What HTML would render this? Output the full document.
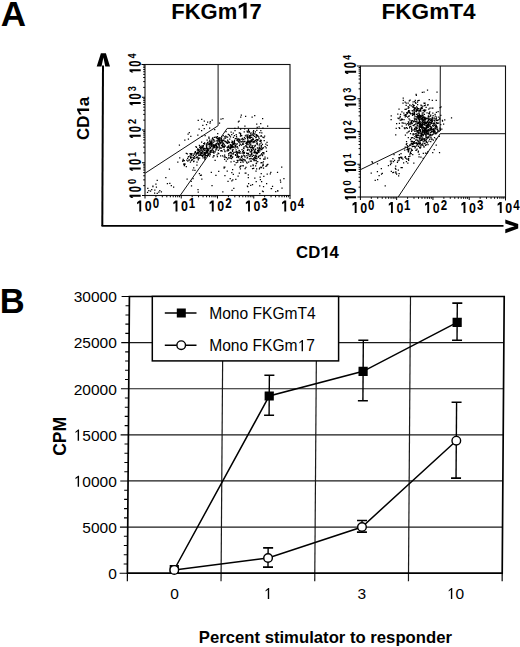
<!DOCTYPE html>
<html><head><meta charset="utf-8"><style>
html,body{margin:0;padding:0;background:#fff;width:520px;height:647px;overflow:hidden}
svg{display:block}
</style></head><body>
<svg width="520" height="647" viewBox="0 0 520 647">
<rect width="520" height="647" fill="#fff"/>
<text x="0.85" y="26.30" font-family="Liberation Sans" font-size="35" font-weight="bold" text-anchor="start" >A</text>
<text x="171.20" y="18.50" font-family="Liberation Sans" font-size="22" font-weight="bold">FKGm</text><path transform="translate(237.20,18.50) scale(22)" d="M0.28,0L0.43,0L0.43,-0.716L0.32,-0.716L0.07,-0.58L0.07,-0.44L0.28,-0.57Z" fill="#000"/><text x="249.43" y="18.50" font-family="Liberation Sans" font-size="22" font-weight="bold">7</text>
<text x="381.50" y="18.50" font-family="Liberation Sans" font-size="22.6" font-weight="bold" text-anchor="start" >FKGmT4</text>
<line x1="103.00" y1="65.50" x2="102.30" y2="226.00" stroke="#000" stroke-width="2.0" />
<line x1="101.50" y1="225.90" x2="503.50" y2="225.90" stroke="#000" stroke-width="1.9" />
<path d="M100.9,53.2 L105.9,53.2 L110,66.4 L105.3,66.4 L103.4,57.6 L101.5,66.4 L96.7,66.4 Z" fill="#000"/>
<path d="M505.3,219.6 L518.2,224.1 L518.2,228.5 L505.3,233.2 L505.3,229.2 L514.6,226.3 L505.3,223.6 Z" fill="#000"/>
<g transform="translate(89.1,139.9) rotate(-90)"><text x="0.00" y="0.00" font-family="Liberation Sans" font-size="16.8" font-weight="bold">CD</text><path transform="translate(24.27,0.00) scale(16.8)" d="M0.28,0L0.43,0L0.43,-0.716L0.32,-0.716L0.07,-0.58L0.07,-0.44L0.28,-0.57Z" fill="#000"/><text x="33.61" y="0.00" font-family="Liberation Sans" font-size="16.8" font-weight="bold">a</text></g>
<text x="296.10" y="258.10" font-family="Liberation Sans" font-size="16.7" font-weight="bold">CD</text><path transform="translate(320.22,258.10) scale(16.7)" d="M0.28,0L0.43,0L0.43,-0.716L0.32,-0.716L0.07,-0.58L0.07,-0.44L0.28,-0.57Z" fill="#000"/><text x="329.51" y="258.10" font-family="Liberation Sans" font-size="16.7" font-weight="bold">4</text>
<rect x="145" y="64.5" width="145" height="131.0" fill="none" stroke="#111" stroke-width="1.1"/>
<line x1="145.00" y1="195.50" x2="145.00" y2="198.50" stroke="#000" stroke-width="1.0" />
<line x1="142.00" y1="195.50" x2="145.00" y2="195.50" stroke="#000" stroke-width="1.0" />
<line x1="155.91" y1="195.50" x2="155.91" y2="197.30" stroke="#000" stroke-width="1.0" />
<line x1="143.20" y1="185.64" x2="145.00" y2="185.64" stroke="#000" stroke-width="1.0" />
<line x1="162.30" y1="195.50" x2="162.30" y2="197.30" stroke="#000" stroke-width="1.0" />
<line x1="143.20" y1="179.87" x2="145.00" y2="179.87" stroke="#000" stroke-width="1.0" />
<line x1="166.82" y1="195.50" x2="166.82" y2="197.30" stroke="#000" stroke-width="1.0" />
<line x1="143.20" y1="175.78" x2="145.00" y2="175.78" stroke="#000" stroke-width="1.0" />
<line x1="170.34" y1="195.50" x2="170.34" y2="197.30" stroke="#000" stroke-width="1.0" />
<line x1="143.20" y1="172.61" x2="145.00" y2="172.61" stroke="#000" stroke-width="1.0" />
<line x1="173.21" y1="195.50" x2="173.21" y2="197.30" stroke="#000" stroke-width="1.0" />
<line x1="143.20" y1="170.02" x2="145.00" y2="170.02" stroke="#000" stroke-width="1.0" />
<line x1="175.63" y1="195.50" x2="175.63" y2="197.30" stroke="#000" stroke-width="1.0" />
<line x1="143.20" y1="167.82" x2="145.00" y2="167.82" stroke="#000" stroke-width="1.0" />
<line x1="177.74" y1="195.50" x2="177.74" y2="197.30" stroke="#000" stroke-width="1.0" />
<line x1="143.20" y1="165.92" x2="145.00" y2="165.92" stroke="#000" stroke-width="1.0" />
<line x1="179.59" y1="195.50" x2="179.59" y2="197.30" stroke="#000" stroke-width="1.0" />
<line x1="143.20" y1="164.25" x2="145.00" y2="164.25" stroke="#000" stroke-width="1.0" />
<line x1="181.25" y1="195.50" x2="181.25" y2="198.50" stroke="#000" stroke-width="1.0" />
<line x1="142.00" y1="162.75" x2="145.00" y2="162.75" stroke="#000" stroke-width="1.0" />
<line x1="192.16" y1="195.50" x2="192.16" y2="197.30" stroke="#000" stroke-width="1.0" />
<line x1="143.20" y1="152.89" x2="145.00" y2="152.89" stroke="#000" stroke-width="1.0" />
<line x1="198.55" y1="195.50" x2="198.55" y2="197.30" stroke="#000" stroke-width="1.0" />
<line x1="143.20" y1="147.12" x2="145.00" y2="147.12" stroke="#000" stroke-width="1.0" />
<line x1="203.07" y1="195.50" x2="203.07" y2="197.30" stroke="#000" stroke-width="1.0" />
<line x1="143.20" y1="143.03" x2="145.00" y2="143.03" stroke="#000" stroke-width="1.0" />
<line x1="206.59" y1="195.50" x2="206.59" y2="197.30" stroke="#000" stroke-width="1.0" />
<line x1="143.20" y1="139.86" x2="145.00" y2="139.86" stroke="#000" stroke-width="1.0" />
<line x1="209.46" y1="195.50" x2="209.46" y2="197.30" stroke="#000" stroke-width="1.0" />
<line x1="143.20" y1="137.27" x2="145.00" y2="137.27" stroke="#000" stroke-width="1.0" />
<line x1="211.88" y1="195.50" x2="211.88" y2="197.30" stroke="#000" stroke-width="1.0" />
<line x1="143.20" y1="135.07" x2="145.00" y2="135.07" stroke="#000" stroke-width="1.0" />
<line x1="213.99" y1="195.50" x2="213.99" y2="197.30" stroke="#000" stroke-width="1.0" />
<line x1="143.20" y1="133.17" x2="145.00" y2="133.17" stroke="#000" stroke-width="1.0" />
<line x1="215.84" y1="195.50" x2="215.84" y2="197.30" stroke="#000" stroke-width="1.0" />
<line x1="143.20" y1="131.50" x2="145.00" y2="131.50" stroke="#000" stroke-width="1.0" />
<line x1="217.50" y1="195.50" x2="217.50" y2="198.50" stroke="#000" stroke-width="1.0" />
<line x1="142.00" y1="130.00" x2="145.00" y2="130.00" stroke="#000" stroke-width="1.0" />
<line x1="228.41" y1="195.50" x2="228.41" y2="197.30" stroke="#000" stroke-width="1.0" />
<line x1="143.20" y1="120.14" x2="145.00" y2="120.14" stroke="#000" stroke-width="1.0" />
<line x1="234.80" y1="195.50" x2="234.80" y2="197.30" stroke="#000" stroke-width="1.0" />
<line x1="143.20" y1="114.37" x2="145.00" y2="114.37" stroke="#000" stroke-width="1.0" />
<line x1="239.32" y1="195.50" x2="239.32" y2="197.30" stroke="#000" stroke-width="1.0" />
<line x1="143.20" y1="110.28" x2="145.00" y2="110.28" stroke="#000" stroke-width="1.0" />
<line x1="242.84" y1="195.50" x2="242.84" y2="197.30" stroke="#000" stroke-width="1.0" />
<line x1="143.20" y1="107.11" x2="145.00" y2="107.11" stroke="#000" stroke-width="1.0" />
<line x1="245.71" y1="195.50" x2="245.71" y2="197.30" stroke="#000" stroke-width="1.0" />
<line x1="143.20" y1="104.52" x2="145.00" y2="104.52" stroke="#000" stroke-width="1.0" />
<line x1="248.13" y1="195.50" x2="248.13" y2="197.30" stroke="#000" stroke-width="1.0" />
<line x1="143.20" y1="102.32" x2="145.00" y2="102.32" stroke="#000" stroke-width="1.0" />
<line x1="250.24" y1="195.50" x2="250.24" y2="197.30" stroke="#000" stroke-width="1.0" />
<line x1="143.20" y1="100.42" x2="145.00" y2="100.42" stroke="#000" stroke-width="1.0" />
<line x1="252.09" y1="195.50" x2="252.09" y2="197.30" stroke="#000" stroke-width="1.0" />
<line x1="143.20" y1="98.75" x2="145.00" y2="98.75" stroke="#000" stroke-width="1.0" />
<line x1="253.75" y1="195.50" x2="253.75" y2="198.50" stroke="#000" stroke-width="1.0" />
<line x1="142.00" y1="97.25" x2="145.00" y2="97.25" stroke="#000" stroke-width="1.0" />
<line x1="264.66" y1="195.50" x2="264.66" y2="197.30" stroke="#000" stroke-width="1.0" />
<line x1="143.20" y1="87.39" x2="145.00" y2="87.39" stroke="#000" stroke-width="1.0" />
<line x1="271.05" y1="195.50" x2="271.05" y2="197.30" stroke="#000" stroke-width="1.0" />
<line x1="143.20" y1="81.62" x2="145.00" y2="81.62" stroke="#000" stroke-width="1.0" />
<line x1="275.57" y1="195.50" x2="275.57" y2="197.30" stroke="#000" stroke-width="1.0" />
<line x1="143.20" y1="77.53" x2="145.00" y2="77.53" stroke="#000" stroke-width="1.0" />
<line x1="279.09" y1="195.50" x2="279.09" y2="197.30" stroke="#000" stroke-width="1.0" />
<line x1="143.20" y1="74.36" x2="145.00" y2="74.36" stroke="#000" stroke-width="1.0" />
<line x1="281.96" y1="195.50" x2="281.96" y2="197.30" stroke="#000" stroke-width="1.0" />
<line x1="143.20" y1="71.77" x2="145.00" y2="71.77" stroke="#000" stroke-width="1.0" />
<line x1="284.38" y1="195.50" x2="284.38" y2="197.30" stroke="#000" stroke-width="1.0" />
<line x1="143.20" y1="69.57" x2="145.00" y2="69.57" stroke="#000" stroke-width="1.0" />
<line x1="286.49" y1="195.50" x2="286.49" y2="197.30" stroke="#000" stroke-width="1.0" />
<line x1="143.20" y1="67.67" x2="145.00" y2="67.67" stroke="#000" stroke-width="1.0" />
<line x1="288.34" y1="195.50" x2="288.34" y2="197.30" stroke="#000" stroke-width="1.0" />
<line x1="143.20" y1="66.00" x2="145.00" y2="66.00" stroke="#000" stroke-width="1.0" />
<line x1="290.00" y1="195.50" x2="290.00" y2="199.00" stroke="#000" stroke-width="1.0" />
<line x1="141.50" y1="64.50" x2="145.00" y2="64.50" stroke="#000" stroke-width="1.0" />
<path transform="translate(145.00,195.50) rotate(0)" d="M-5.70,4.90H-3.80V15.90H-5.70Z M-5.70,4.90L-5.70,7.50L-7.90,8.80L-7.90,6.80Z" fill="#000"/>
<text transform="translate(145.00,195.50) rotate(0) translate(-0.20,15.90) scale(0.8,1)" font-family="Liberation Sans" font-size="15.5" font-weight="bold">0</text>
<text transform="translate(145.00,195.50) rotate(0) translate(7.64,12.60) scale(0.82,1)" font-family="Liberation Sans" font-size="14" font-weight="bold">0</text>
<path transform="translate(140.70,190.00) rotate(-90)" d="M-6.70,-11.20H-4.80V0.00H-6.70Z M-6.70,-11.20L-6.70,-8.60L-8.00,-7.30L-8.00,-9.30Z" fill="#000"/>
<text transform="translate(140.70,190.00) rotate(-90) translate(-2.35,0.00) scale(0.68,1)" font-family="Liberation Sans" font-size="16.5" font-weight="bold">0</text>
<text transform="translate(140.70,190.00) rotate(-90) translate(5.93,-4.80) scale(0.8,1)" font-family="Liberation Sans" font-size="11.5" font-weight="bold">0</text>
<path transform="translate(181.25,195.50) rotate(0)" d="M-5.70,4.90H-3.80V15.90H-5.70Z M-5.70,4.90L-5.70,7.50L-7.90,8.80L-7.90,6.80Z" fill="#000"/>
<text transform="translate(181.25,195.50) rotate(0) translate(-0.20,15.90) scale(0.8,1)" font-family="Liberation Sans" font-size="15.5" font-weight="bold">0</text>
<text transform="translate(181.25,195.50) rotate(0) translate(7.41,12.60) scale(0.82,1)" font-family="Liberation Sans" font-size="14" font-weight="bold">1</text>
<path transform="translate(140.70,162.75) rotate(-90)" d="M-6.70,-11.20H-4.80V0.00H-6.70Z M-6.70,-11.20L-6.70,-8.60L-8.00,-7.30L-8.00,-9.30Z" fill="#000"/>
<text transform="translate(140.70,162.75) rotate(-90) translate(-2.35,0.00) scale(0.68,1)" font-family="Liberation Sans" font-size="16.5" font-weight="bold">0</text>
<text transform="translate(140.70,162.75) rotate(-90) translate(5.75,-4.80) scale(0.8,1)" font-family="Liberation Sans" font-size="11.5" font-weight="bold">1</text>
<path transform="translate(217.50,195.50) rotate(0)" d="M-5.70,4.90H-3.80V15.90H-5.70Z M-5.70,4.90L-5.70,7.50L-7.90,8.80L-7.90,6.80Z" fill="#000"/>
<text transform="translate(217.50,195.50) rotate(0) translate(-0.20,15.90) scale(0.8,1)" font-family="Liberation Sans" font-size="15.5" font-weight="bold">0</text>
<text transform="translate(217.50,195.50) rotate(0) translate(7.76,12.60) scale(0.82,1)" font-family="Liberation Sans" font-size="14" font-weight="bold">2</text>
<path transform="translate(140.70,130.00) rotate(-90)" d="M-6.70,-11.20H-4.80V0.00H-6.70Z M-6.70,-11.20L-6.70,-8.60L-8.00,-7.30L-8.00,-9.30Z" fill="#000"/>
<text transform="translate(140.70,130.00) rotate(-90) translate(-2.35,0.00) scale(0.68,1)" font-family="Liberation Sans" font-size="16.5" font-weight="bold">0</text>
<text transform="translate(140.70,130.00) rotate(-90) translate(6.02,-4.80) scale(0.8,1)" font-family="Liberation Sans" font-size="11.5" font-weight="bold">2</text>
<path transform="translate(253.75,195.50) rotate(0)" d="M-5.70,4.90H-3.80V15.90H-5.70Z M-5.70,4.90L-5.70,7.50L-7.90,8.80L-7.90,6.80Z" fill="#000"/>
<text transform="translate(253.75,195.50) rotate(0) translate(-0.20,15.90) scale(0.8,1)" font-family="Liberation Sans" font-size="15.5" font-weight="bold">0</text>
<text transform="translate(253.75,195.50) rotate(0) translate(7.87,12.60) scale(0.82,1)" font-family="Liberation Sans" font-size="14" font-weight="bold">3</text>
<path transform="translate(140.70,97.25) rotate(-90)" d="M-6.70,-11.20H-4.80V0.00H-6.70Z M-6.70,-11.20L-6.70,-8.60L-8.00,-7.30L-8.00,-9.30Z" fill="#000"/>
<text transform="translate(140.70,97.25) rotate(-90) translate(-2.35,0.00) scale(0.68,1)" font-family="Liberation Sans" font-size="16.5" font-weight="bold">0</text>
<text transform="translate(140.70,97.25) rotate(-90) translate(6.12,-4.80) scale(0.8,1)" font-family="Liberation Sans" font-size="11.5" font-weight="bold">3</text>
<path transform="translate(290.00,195.50) rotate(0)" d="M-5.70,4.90H-3.80V15.90H-5.70Z M-5.70,4.90L-5.70,7.50L-7.90,8.80L-7.90,6.80Z" fill="#000"/>
<text transform="translate(290.00,195.50) rotate(0) translate(-0.20,15.90) scale(0.8,1)" font-family="Liberation Sans" font-size="15.5" font-weight="bold">0</text>
<text transform="translate(290.00,195.50) rotate(0) translate(7.87,12.60) scale(0.82,1)" font-family="Liberation Sans" font-size="14" font-weight="bold">4</text>
<path transform="translate(140.70,64.50) rotate(-90)" d="M-6.70,-11.20H-4.80V0.00H-6.70Z M-6.70,-11.20L-6.70,-8.60L-8.00,-7.30L-8.00,-9.30Z" fill="#000"/>
<text transform="translate(140.70,64.50) rotate(-90) translate(-2.35,0.00) scale(0.68,1)" font-family="Liberation Sans" font-size="16.5" font-weight="bold">0</text>
<text transform="translate(140.70,64.50) rotate(-90) translate(6.12,-4.80) scale(0.8,1)" font-family="Liberation Sans" font-size="11.5" font-weight="bold">4</text>
<rect x="360.4" y="66" width="145.10000000000002" height="131" fill="none" stroke="#111" stroke-width="1.1"/>
<line x1="360.40" y1="197.00" x2="360.40" y2="200.00" stroke="#000" stroke-width="1.0" />
<line x1="357.40" y1="197.00" x2="360.40" y2="197.00" stroke="#000" stroke-width="1.0" />
<line x1="371.32" y1="197.00" x2="371.32" y2="198.80" stroke="#000" stroke-width="1.0" />
<line x1="358.60" y1="187.14" x2="360.40" y2="187.14" stroke="#000" stroke-width="1.0" />
<line x1="377.71" y1="197.00" x2="377.71" y2="198.80" stroke="#000" stroke-width="1.0" />
<line x1="358.60" y1="181.37" x2="360.40" y2="181.37" stroke="#000" stroke-width="1.0" />
<line x1="382.24" y1="197.00" x2="382.24" y2="198.80" stroke="#000" stroke-width="1.0" />
<line x1="358.60" y1="177.28" x2="360.40" y2="177.28" stroke="#000" stroke-width="1.0" />
<line x1="385.76" y1="197.00" x2="385.76" y2="198.80" stroke="#000" stroke-width="1.0" />
<line x1="358.60" y1="174.11" x2="360.40" y2="174.11" stroke="#000" stroke-width="1.0" />
<line x1="388.63" y1="197.00" x2="388.63" y2="198.80" stroke="#000" stroke-width="1.0" />
<line x1="358.60" y1="171.52" x2="360.40" y2="171.52" stroke="#000" stroke-width="1.0" />
<line x1="391.06" y1="197.00" x2="391.06" y2="198.80" stroke="#000" stroke-width="1.0" />
<line x1="358.60" y1="169.32" x2="360.40" y2="169.32" stroke="#000" stroke-width="1.0" />
<line x1="393.16" y1="197.00" x2="393.16" y2="198.80" stroke="#000" stroke-width="1.0" />
<line x1="358.60" y1="167.42" x2="360.40" y2="167.42" stroke="#000" stroke-width="1.0" />
<line x1="395.02" y1="197.00" x2="395.02" y2="198.80" stroke="#000" stroke-width="1.0" />
<line x1="358.60" y1="165.75" x2="360.40" y2="165.75" stroke="#000" stroke-width="1.0" />
<line x1="396.67" y1="197.00" x2="396.67" y2="200.00" stroke="#000" stroke-width="1.0" />
<line x1="357.40" y1="164.25" x2="360.40" y2="164.25" stroke="#000" stroke-width="1.0" />
<line x1="407.59" y1="197.00" x2="407.59" y2="198.80" stroke="#000" stroke-width="1.0" />
<line x1="358.60" y1="154.39" x2="360.40" y2="154.39" stroke="#000" stroke-width="1.0" />
<line x1="413.98" y1="197.00" x2="413.98" y2="198.80" stroke="#000" stroke-width="1.0" />
<line x1="358.60" y1="148.62" x2="360.40" y2="148.62" stroke="#000" stroke-width="1.0" />
<line x1="418.51" y1="197.00" x2="418.51" y2="198.80" stroke="#000" stroke-width="1.0" />
<line x1="358.60" y1="144.53" x2="360.40" y2="144.53" stroke="#000" stroke-width="1.0" />
<line x1="422.03" y1="197.00" x2="422.03" y2="198.80" stroke="#000" stroke-width="1.0" />
<line x1="358.60" y1="141.36" x2="360.40" y2="141.36" stroke="#000" stroke-width="1.0" />
<line x1="424.90" y1="197.00" x2="424.90" y2="198.80" stroke="#000" stroke-width="1.0" />
<line x1="358.60" y1="138.77" x2="360.40" y2="138.77" stroke="#000" stroke-width="1.0" />
<line x1="427.33" y1="197.00" x2="427.33" y2="198.80" stroke="#000" stroke-width="1.0" />
<line x1="358.60" y1="136.57" x2="360.40" y2="136.57" stroke="#000" stroke-width="1.0" />
<line x1="429.43" y1="197.00" x2="429.43" y2="198.80" stroke="#000" stroke-width="1.0" />
<line x1="358.60" y1="134.67" x2="360.40" y2="134.67" stroke="#000" stroke-width="1.0" />
<line x1="431.29" y1="197.00" x2="431.29" y2="198.80" stroke="#000" stroke-width="1.0" />
<line x1="358.60" y1="133.00" x2="360.40" y2="133.00" stroke="#000" stroke-width="1.0" />
<line x1="432.95" y1="197.00" x2="432.95" y2="200.00" stroke="#000" stroke-width="1.0" />
<line x1="357.40" y1="131.50" x2="360.40" y2="131.50" stroke="#000" stroke-width="1.0" />
<line x1="443.87" y1="197.00" x2="443.87" y2="198.80" stroke="#000" stroke-width="1.0" />
<line x1="358.60" y1="121.64" x2="360.40" y2="121.64" stroke="#000" stroke-width="1.0" />
<line x1="450.26" y1="197.00" x2="450.26" y2="198.80" stroke="#000" stroke-width="1.0" />
<line x1="358.60" y1="115.87" x2="360.40" y2="115.87" stroke="#000" stroke-width="1.0" />
<line x1="454.79" y1="197.00" x2="454.79" y2="198.80" stroke="#000" stroke-width="1.0" />
<line x1="358.60" y1="111.78" x2="360.40" y2="111.78" stroke="#000" stroke-width="1.0" />
<line x1="458.31" y1="197.00" x2="458.31" y2="198.80" stroke="#000" stroke-width="1.0" />
<line x1="358.60" y1="108.61" x2="360.40" y2="108.61" stroke="#000" stroke-width="1.0" />
<line x1="461.18" y1="197.00" x2="461.18" y2="198.80" stroke="#000" stroke-width="1.0" />
<line x1="358.60" y1="106.02" x2="360.40" y2="106.02" stroke="#000" stroke-width="1.0" />
<line x1="463.61" y1="197.00" x2="463.61" y2="198.80" stroke="#000" stroke-width="1.0" />
<line x1="358.60" y1="103.82" x2="360.40" y2="103.82" stroke="#000" stroke-width="1.0" />
<line x1="465.71" y1="197.00" x2="465.71" y2="198.80" stroke="#000" stroke-width="1.0" />
<line x1="358.60" y1="101.92" x2="360.40" y2="101.92" stroke="#000" stroke-width="1.0" />
<line x1="467.57" y1="197.00" x2="467.57" y2="198.80" stroke="#000" stroke-width="1.0" />
<line x1="358.60" y1="100.25" x2="360.40" y2="100.25" stroke="#000" stroke-width="1.0" />
<line x1="469.23" y1="197.00" x2="469.23" y2="200.00" stroke="#000" stroke-width="1.0" />
<line x1="357.40" y1="98.75" x2="360.40" y2="98.75" stroke="#000" stroke-width="1.0" />
<line x1="480.14" y1="197.00" x2="480.14" y2="198.80" stroke="#000" stroke-width="1.0" />
<line x1="358.60" y1="88.89" x2="360.40" y2="88.89" stroke="#000" stroke-width="1.0" />
<line x1="486.53" y1="197.00" x2="486.53" y2="198.80" stroke="#000" stroke-width="1.0" />
<line x1="358.60" y1="83.12" x2="360.40" y2="83.12" stroke="#000" stroke-width="1.0" />
<line x1="491.06" y1="197.00" x2="491.06" y2="198.80" stroke="#000" stroke-width="1.0" />
<line x1="358.60" y1="79.03" x2="360.40" y2="79.03" stroke="#000" stroke-width="1.0" />
<line x1="494.58" y1="197.00" x2="494.58" y2="198.80" stroke="#000" stroke-width="1.0" />
<line x1="358.60" y1="75.86" x2="360.40" y2="75.86" stroke="#000" stroke-width="1.0" />
<line x1="497.45" y1="197.00" x2="497.45" y2="198.80" stroke="#000" stroke-width="1.0" />
<line x1="358.60" y1="73.27" x2="360.40" y2="73.27" stroke="#000" stroke-width="1.0" />
<line x1="499.88" y1="197.00" x2="499.88" y2="198.80" stroke="#000" stroke-width="1.0" />
<line x1="358.60" y1="71.07" x2="360.40" y2="71.07" stroke="#000" stroke-width="1.0" />
<line x1="501.98" y1="197.00" x2="501.98" y2="198.80" stroke="#000" stroke-width="1.0" />
<line x1="358.60" y1="69.17" x2="360.40" y2="69.17" stroke="#000" stroke-width="1.0" />
<line x1="503.84" y1="197.00" x2="503.84" y2="198.80" stroke="#000" stroke-width="1.0" />
<line x1="358.60" y1="67.50" x2="360.40" y2="67.50" stroke="#000" stroke-width="1.0" />
<line x1="505.50" y1="197.00" x2="505.50" y2="200.50" stroke="#000" stroke-width="1.0" />
<line x1="356.90" y1="66.00" x2="360.40" y2="66.00" stroke="#000" stroke-width="1.0" />
<path transform="translate(360.40,197.00) rotate(0)" d="M-5.70,4.90H-3.80V15.90H-5.70Z M-5.70,4.90L-5.70,7.50L-7.90,8.80L-7.90,6.80Z" fill="#000"/>
<text transform="translate(360.40,197.00) rotate(0) translate(-0.20,15.90) scale(0.8,1)" font-family="Liberation Sans" font-size="15.5" font-weight="bold">0</text>
<text transform="translate(360.40,197.00) rotate(0) translate(7.64,12.60) scale(0.82,1)" font-family="Liberation Sans" font-size="14" font-weight="bold">0</text>
<path transform="translate(356.10,191.50) rotate(-90)" d="M-6.70,-11.20H-4.80V0.00H-6.70Z M-6.70,-11.20L-6.70,-8.60L-8.00,-7.30L-8.00,-9.30Z" fill="#000"/>
<text transform="translate(356.10,191.50) rotate(-90) translate(-2.35,0.00) scale(0.68,1)" font-family="Liberation Sans" font-size="16.5" font-weight="bold">0</text>
<text transform="translate(356.10,191.50) rotate(-90) translate(5.93,-4.80) scale(0.8,1)" font-family="Liberation Sans" font-size="11.5" font-weight="bold">0</text>
<path transform="translate(396.67,197.00) rotate(0)" d="M-5.70,4.90H-3.80V15.90H-5.70Z M-5.70,4.90L-5.70,7.50L-7.90,8.80L-7.90,6.80Z" fill="#000"/>
<text transform="translate(396.67,197.00) rotate(0) translate(-0.20,15.90) scale(0.8,1)" font-family="Liberation Sans" font-size="15.5" font-weight="bold">0</text>
<text transform="translate(396.67,197.00) rotate(0) translate(7.41,12.60) scale(0.82,1)" font-family="Liberation Sans" font-size="14" font-weight="bold">1</text>
<path transform="translate(356.10,164.25) rotate(-90)" d="M-6.70,-11.20H-4.80V0.00H-6.70Z M-6.70,-11.20L-6.70,-8.60L-8.00,-7.30L-8.00,-9.30Z" fill="#000"/>
<text transform="translate(356.10,164.25) rotate(-90) translate(-2.35,0.00) scale(0.68,1)" font-family="Liberation Sans" font-size="16.5" font-weight="bold">0</text>
<text transform="translate(356.10,164.25) rotate(-90) translate(5.75,-4.80) scale(0.8,1)" font-family="Liberation Sans" font-size="11.5" font-weight="bold">1</text>
<path transform="translate(432.95,197.00) rotate(0)" d="M-5.70,4.90H-3.80V15.90H-5.70Z M-5.70,4.90L-5.70,7.50L-7.90,8.80L-7.90,6.80Z" fill="#000"/>
<text transform="translate(432.95,197.00) rotate(0) translate(-0.20,15.90) scale(0.8,1)" font-family="Liberation Sans" font-size="15.5" font-weight="bold">0</text>
<text transform="translate(432.95,197.00) rotate(0) translate(7.76,12.60) scale(0.82,1)" font-family="Liberation Sans" font-size="14" font-weight="bold">2</text>
<path transform="translate(356.10,131.50) rotate(-90)" d="M-6.70,-11.20H-4.80V0.00H-6.70Z M-6.70,-11.20L-6.70,-8.60L-8.00,-7.30L-8.00,-9.30Z" fill="#000"/>
<text transform="translate(356.10,131.50) rotate(-90) translate(-2.35,0.00) scale(0.68,1)" font-family="Liberation Sans" font-size="16.5" font-weight="bold">0</text>
<text transform="translate(356.10,131.50) rotate(-90) translate(6.02,-4.80) scale(0.8,1)" font-family="Liberation Sans" font-size="11.5" font-weight="bold">2</text>
<path transform="translate(469.23,197.00) rotate(0)" d="M-5.70,4.90H-3.80V15.90H-5.70Z M-5.70,4.90L-5.70,7.50L-7.90,8.80L-7.90,6.80Z" fill="#000"/>
<text transform="translate(469.23,197.00) rotate(0) translate(-0.20,15.90) scale(0.8,1)" font-family="Liberation Sans" font-size="15.5" font-weight="bold">0</text>
<text transform="translate(469.23,197.00) rotate(0) translate(7.87,12.60) scale(0.82,1)" font-family="Liberation Sans" font-size="14" font-weight="bold">3</text>
<path transform="translate(356.10,98.75) rotate(-90)" d="M-6.70,-11.20H-4.80V0.00H-6.70Z M-6.70,-11.20L-6.70,-8.60L-8.00,-7.30L-8.00,-9.30Z" fill="#000"/>
<text transform="translate(356.10,98.75) rotate(-90) translate(-2.35,0.00) scale(0.68,1)" font-family="Liberation Sans" font-size="16.5" font-weight="bold">0</text>
<text transform="translate(356.10,98.75) rotate(-90) translate(6.12,-4.80) scale(0.8,1)" font-family="Liberation Sans" font-size="11.5" font-weight="bold">3</text>
<path transform="translate(505.50,197.00) rotate(0)" d="M-5.70,4.90H-3.80V15.90H-5.70Z M-5.70,4.90L-5.70,7.50L-7.90,8.80L-7.90,6.80Z" fill="#000"/>
<text transform="translate(505.50,197.00) rotate(0) translate(-0.20,15.90) scale(0.8,1)" font-family="Liberation Sans" font-size="15.5" font-weight="bold">0</text>
<text transform="translate(505.50,197.00) rotate(0) translate(7.87,12.60) scale(0.82,1)" font-family="Liberation Sans" font-size="14" font-weight="bold">4</text>
<path transform="translate(356.10,66.00) rotate(-90)" d="M-6.70,-11.20H-4.80V0.00H-6.70Z M-6.70,-11.20L-6.70,-8.60L-8.00,-7.30L-8.00,-9.30Z" fill="#000"/>
<text transform="translate(356.10,66.00) rotate(-90) translate(-2.35,0.00) scale(0.68,1)" font-family="Liberation Sans" font-size="16.5" font-weight="bold">0</text>
<text transform="translate(356.10,66.00) rotate(-90) translate(6.12,-4.80) scale(0.8,1)" font-family="Liberation Sans" font-size="11.5" font-weight="bold">4</text>
<polyline points="218.1,64.5 218.1,125.7 145.2,173.2" stroke="#111" stroke-width="1.0" fill="none"/>
<polyline points="290,128.4 227.2,128.4 180.2,195.5" stroke="#111" stroke-width="1.0" fill="none"/>
<polyline points="440.3,66 440.1,131 360.4,169.7" stroke="#111" stroke-width="1.0" fill="none"/>
<polyline points="505.5,133.7 440.2,133.7 398.2,197" stroke="#111" stroke-width="1.0" fill="none"/>
<text x="-0.30" y="312.90" font-family="Liberation Sans" font-size="34.5" font-weight="bold" text-anchor="start" >B</text>
<g transform="matrix(1 0 -0.00723 1 4.1439 0)">
<line x1="127.40" y1="527.08" x2="502.20" y2="527.08" stroke="#1a1a1a" stroke-width="1.2" />
<line x1="127.40" y1="480.97" x2="502.20" y2="480.97" stroke="#1a1a1a" stroke-width="1.2" />
<line x1="127.40" y1="434.85" x2="502.20" y2="434.85" stroke="#1a1a1a" stroke-width="1.2" />
<line x1="127.40" y1="388.73" x2="502.20" y2="388.73" stroke="#1a1a1a" stroke-width="1.2" />
<line x1="127.40" y1="342.62" x2="502.20" y2="342.62" stroke="#1a1a1a" stroke-width="1.2" />
<line x1="221.10" y1="360.80" x2="221.10" y2="581.20" stroke="#1a1a1a" stroke-width="1.2" />
<line x1="314.80" y1="360.80" x2="314.80" y2="581.20" stroke="#1a1a1a" stroke-width="1.2" />
<line x1="408.50" y1="296.40" x2="408.50" y2="581.20" stroke="#1a1a1a" stroke-width="1.2" />
<line x1="119.60" y1="573.20" x2="127.40" y2="573.20" stroke="#000" stroke-width="1.1" />
<line x1="123.60" y1="563.98" x2="127.40" y2="563.98" stroke="#000" stroke-width="1.1" />
<line x1="123.60" y1="554.75" x2="127.40" y2="554.75" stroke="#000" stroke-width="1.1" />
<line x1="123.60" y1="545.53" x2="127.40" y2="545.53" stroke="#000" stroke-width="1.1" />
<line x1="123.60" y1="536.31" x2="127.40" y2="536.31" stroke="#000" stroke-width="1.1" />
<line x1="119.60" y1="527.08" x2="127.40" y2="527.08" stroke="#000" stroke-width="1.1" />
<line x1="123.60" y1="517.86" x2="127.40" y2="517.86" stroke="#000" stroke-width="1.1" />
<line x1="123.60" y1="508.64" x2="127.40" y2="508.64" stroke="#000" stroke-width="1.1" />
<line x1="123.60" y1="499.41" x2="127.40" y2="499.41" stroke="#000" stroke-width="1.1" />
<line x1="123.60" y1="490.19" x2="127.40" y2="490.19" stroke="#000" stroke-width="1.1" />
<line x1="119.60" y1="480.97" x2="127.40" y2="480.97" stroke="#000" stroke-width="1.1" />
<line x1="123.60" y1="471.74" x2="127.40" y2="471.74" stroke="#000" stroke-width="1.1" />
<line x1="123.60" y1="462.52" x2="127.40" y2="462.52" stroke="#000" stroke-width="1.1" />
<line x1="123.60" y1="453.30" x2="127.40" y2="453.30" stroke="#000" stroke-width="1.1" />
<line x1="123.60" y1="444.07" x2="127.40" y2="444.07" stroke="#000" stroke-width="1.1" />
<line x1="119.60" y1="434.85" x2="127.40" y2="434.85" stroke="#000" stroke-width="1.1" />
<line x1="123.60" y1="425.63" x2="127.40" y2="425.63" stroke="#000" stroke-width="1.1" />
<line x1="123.60" y1="416.40" x2="127.40" y2="416.40" stroke="#000" stroke-width="1.1" />
<line x1="123.60" y1="407.18" x2="127.40" y2="407.18" stroke="#000" stroke-width="1.1" />
<line x1="123.60" y1="397.96" x2="127.40" y2="397.96" stroke="#000" stroke-width="1.1" />
<line x1="119.60" y1="388.73" x2="127.40" y2="388.73" stroke="#000" stroke-width="1.1" />
<line x1="123.60" y1="379.51" x2="127.40" y2="379.51" stroke="#000" stroke-width="1.1" />
<line x1="123.60" y1="370.29" x2="127.40" y2="370.29" stroke="#000" stroke-width="1.1" />
<line x1="123.60" y1="361.06" x2="127.40" y2="361.06" stroke="#000" stroke-width="1.1" />
<line x1="123.60" y1="351.84" x2="127.40" y2="351.84" stroke="#000" stroke-width="1.1" />
<line x1="119.60" y1="342.62" x2="127.40" y2="342.62" stroke="#000" stroke-width="1.1" />
<line x1="123.60" y1="333.39" x2="127.40" y2="333.39" stroke="#000" stroke-width="1.1" />
<line x1="123.60" y1="324.17" x2="127.40" y2="324.17" stroke="#000" stroke-width="1.1" />
<line x1="123.60" y1="314.95" x2="127.40" y2="314.95" stroke="#000" stroke-width="1.1" />
<line x1="123.60" y1="305.72" x2="127.40" y2="305.72" stroke="#000" stroke-width="1.1" />
<line x1="119.60" y1="296.50" x2="127.40" y2="296.50" stroke="#000" stroke-width="1.1" />
<rect x="127.4" y="296.50" width="374.80" height="276.70" fill="none" stroke="#000" stroke-width="1.7"/>
<line x1="127.40" y1="573.10" x2="127.40" y2="581.20" stroke="#000" stroke-width="1.2" />
<line x1="502.20" y1="573.10" x2="502.20" y2="581.20" stroke="#000" stroke-width="1.2" />
<line x1="267.95" y1="415.30" x2="267.95" y2="375.20" stroke="#000" stroke-width="1.4" />
<line x1="262.95" y1="415.30" x2="272.95" y2="415.30" stroke="#000" stroke-width="1.6" />
<line x1="262.95" y1="375.20" x2="272.95" y2="375.20" stroke="#000" stroke-width="1.6" />
<line x1="361.65" y1="400.80" x2="361.65" y2="340.30" stroke="#000" stroke-width="1.4" />
<line x1="356.65" y1="400.80" x2="366.65" y2="400.80" stroke="#000" stroke-width="1.6" />
<line x1="356.65" y1="340.30" x2="366.65" y2="340.30" stroke="#000" stroke-width="1.6" />
<line x1="455.35" y1="340.30" x2="455.35" y2="303.10" stroke="#000" stroke-width="1.4" />
<line x1="450.35" y1="340.30" x2="460.35" y2="340.30" stroke="#000" stroke-width="1.6" />
<line x1="450.35" y1="303.10" x2="460.35" y2="303.10" stroke="#000" stroke-width="1.6" />
<polyline points="174.25,569.51 267.95,396.00 361.65,371.30 455.35,322.40" fill="none" stroke="#000" stroke-width="1.5"/>
<line x1="267.95" y1="567.10" x2="267.95" y2="547.90" stroke="#000" stroke-width="1.4" />
<line x1="262.95" y1="567.10" x2="272.95" y2="567.10" stroke="#000" stroke-width="1.6" />
<line x1="262.95" y1="547.90" x2="272.95" y2="547.90" stroke="#000" stroke-width="1.6" />
<line x1="361.65" y1="532.10" x2="361.65" y2="520.50" stroke="#000" stroke-width="1.4" />
<line x1="356.65" y1="532.10" x2="366.65" y2="532.10" stroke="#000" stroke-width="1.6" />
<line x1="356.65" y1="520.50" x2="366.65" y2="520.50" stroke="#000" stroke-width="1.6" />
<line x1="455.35" y1="478.10" x2="455.35" y2="402.30" stroke="#000" stroke-width="1.4" />
<line x1="450.35" y1="478.10" x2="460.35" y2="478.10" stroke="#000" stroke-width="1.6" />
<line x1="450.35" y1="402.30" x2="460.35" y2="402.30" stroke="#000" stroke-width="1.6" />
<polyline points="174.25,569.90 267.95,558.00 361.65,527.00 455.35,440.70" fill="none" stroke="#000" stroke-width="1.5"/>
<rect x="169.65" y="564.91" width="9.2" height="9.2" fill="#000"/>
<rect x="263.35" y="391.40" width="9.2" height="9.2" fill="#000"/>
<rect x="357.05" y="366.70" width="9.2" height="9.2" fill="#000"/>
<rect x="450.75" y="317.80" width="9.2" height="9.2" fill="#000"/>
<circle cx="174.25" cy="569.90" r="4.3" fill="#fff" stroke="#000" stroke-width="1.4"/>
<circle cx="267.95" cy="558.00" r="4.3" fill="#fff" stroke="#000" stroke-width="1.4"/>
<circle cx="361.65" cy="527.00" r="4.3" fill="#fff" stroke="#000" stroke-width="1.4"/>
<circle cx="455.35" cy="440.70" r="4.3" fill="#fff" stroke="#000" stroke-width="1.4"/>
</g>
<rect x="152.3" y="296.4" width="186.3" height="64.5" fill="#fff" stroke="#000" stroke-width="1.5"/>
<line x1="164.80" y1="312.90" x2="196.50" y2="312.90" stroke="#000" stroke-width="1.5" />
<rect x="176.8" y="308.5" width="9" height="9" fill="#000"/>
<line x1="164.80" y1="345.20" x2="196.50" y2="345.20" stroke="#000" stroke-width="1.5" />
<circle cx="181.2" cy="345.2" r="4.3" fill="#fff" stroke="#000" stroke-width="1.4"/>
<text x="209.20" y="318.80" font-family="Liberation Sans" font-size="15.6" font-weight="normal" text-anchor="start" >Mono FKGmT4</text>
<text x="209.20" y="351.20" font-family="Liberation Sans" font-size="15.6" font-weight="normal">Mono FKGm</text><path transform="translate(297.62,351.20) scale(15.6)" d="M0.255,0L0.345,0L0.345,-0.716L0.29,-0.716L0.115,-0.575L0.115,-0.49L0.255,-0.6Z" fill="#000"/><text x="306.29" y="351.20" font-family="Liberation Sans" font-size="15.6" font-weight="normal">7</text>
<text x="108.18" y="579.00" font-family="Liberation Sans" font-size="15.5" font-weight="normal">0</text>
<text x="82.32" y="532.88" font-family="Liberation Sans" font-size="15.5" font-weight="normal">5000</text>
<path transform="translate(73.70,486.77) scale(15.5)" d="M0.255,0L0.345,0L0.345,-0.716L0.29,-0.716L0.115,-0.575L0.115,-0.49L0.255,-0.6Z" fill="#000"/><text x="82.32" y="486.77" font-family="Liberation Sans" font-size="15.5" font-weight="normal">0000</text>
<path transform="translate(73.70,440.65) scale(15.5)" d="M0.255,0L0.345,0L0.345,-0.716L0.29,-0.716L0.115,-0.575L0.115,-0.49L0.255,-0.6Z" fill="#000"/><text x="82.32" y="440.65" font-family="Liberation Sans" font-size="15.5" font-weight="normal">5000</text>
<text x="73.70" y="394.53" font-family="Liberation Sans" font-size="15.5" font-weight="normal">20000</text>
<text x="73.70" y="348.42" font-family="Liberation Sans" font-size="15.5" font-weight="normal">25000</text>
<text x="73.70" y="302.30" font-family="Liberation Sans" font-size="15.5" font-weight="normal">30000</text>
<text x="170.14" y="599.10" font-family="Liberation Sans" font-size="15.5" font-weight="normal">0</text>
<path transform="translate(263.84,599.10) scale(15.5)" d="M0.255,0L0.345,0L0.345,-0.716L0.29,-0.716L0.115,-0.575L0.115,-0.49L0.255,-0.6Z" fill="#000"/>
<text x="357.54" y="599.10" font-family="Liberation Sans" font-size="15.5" font-weight="normal">3</text>
<path transform="translate(446.93,599.10) scale(15.5)" d="M0.255,0L0.345,0L0.345,-0.716L0.29,-0.716L0.115,-0.575L0.115,-0.49L0.255,-0.6Z" fill="#000"/><text x="455.55" y="599.10" font-family="Liberation Sans" font-size="15.5" font-weight="normal">0</text>
<text x="0.00" y="0.00" font-family="Liberation Sans" font-size="17.5" font-weight="bold" text-anchor="start" transform="translate(66.4,455.8) rotate(-90)">CPM</text>
<text x="198.80" y="642.70" font-family="Liberation Sans" font-size="16.7" font-weight="bold" text-anchor="start" >Percent stimulator to responder</text>
<path d="M231.4 140.5h1.25v1.25h-1.25zM233.5 151.8h1.25v1.25h-1.25zM229.5 147.3h1.25v1.25h-1.25zM225.1 135.6h1.25v1.25h-1.25zM228.2 155.1h1.25v1.25h-1.25zM224.4 156.5h1.25v1.25h-1.25zM231.8 145.9h1.25v1.25h-1.25zM240.8 144.5h1.25v1.25h-1.25zM227.9 145.3h1.25v1.25h-1.25zM227.0 139.5h1.25v1.25h-1.25zM234.8 154.1h1.25v1.25h-1.25zM233.9 142.6h1.25v1.25h-1.25zM232.1 146.0h1.25v1.25h-1.25zM224.9 140.8h1.25v1.25h-1.25zM231.2 142.0h1.25v1.25h-1.25zM236.2 137.4h1.25v1.25h-1.25zM222.0 155.2h1.25v1.25h-1.25zM228.2 145.3h1.25v1.25h-1.25zM218.1 153.1h1.25v1.25h-1.25zM222.3 146.5h1.25v1.25h-1.25zM218.5 141.5h1.25v1.25h-1.25zM229.7 144.1h1.25v1.25h-1.25zM222.5 142.5h1.25v1.25h-1.25zM233.3 146.4h1.25v1.25h-1.25zM232.5 143.7h1.25v1.25h-1.25zM230.1 144.3h1.25v1.25h-1.25zM213.8 136.7h1.25v1.25h-1.25zM227.6 140.7h1.25v1.25h-1.25zM231.0 158.0h1.25v1.25h-1.25zM232.2 141.7h1.25v1.25h-1.25zM220.7 139.0h1.25v1.25h-1.25zM228.0 148.7h1.25v1.25h-1.25zM224.5 156.2h1.25v1.25h-1.25zM225.7 136.2h1.25v1.25h-1.25zM238.8 144.9h1.25v1.25h-1.25zM225.7 142.0h1.25v1.25h-1.25zM231.1 134.0h1.25v1.25h-1.25zM237.6 151.5h1.25v1.25h-1.25zM227.3 146.2h1.25v1.25h-1.25zM230.6 146.9h1.25v1.25h-1.25zM232.1 141.1h1.25v1.25h-1.25zM231.8 149.6h1.25v1.25h-1.25zM222.8 142.6h1.25v1.25h-1.25zM231.9 145.4h1.25v1.25h-1.25zM240.9 138.6h1.25v1.25h-1.25zM220.5 137.9h1.25v1.25h-1.25zM237.4 155.7h1.25v1.25h-1.25zM232.2 142.8h1.25v1.25h-1.25zM226.9 148.4h1.25v1.25h-1.25zM245.4 146.1h1.25v1.25h-1.25zM236.7 143.3h1.25v1.25h-1.25zM223.0 142.8h1.25v1.25h-1.25zM231.9 150.8h1.25v1.25h-1.25zM235.4 144.3h1.25v1.25h-1.25zM230.1 145.3h1.25v1.25h-1.25zM236.2 146.5h1.25v1.25h-1.25zM230.9 154.6h1.25v1.25h-1.25zM236.0 151.1h1.25v1.25h-1.25zM241.4 149.1h1.25v1.25h-1.25zM226.6 142.4h1.25v1.25h-1.25zM232.8 136.7h1.25v1.25h-1.25zM228.1 153.0h1.25v1.25h-1.25zM232.3 153.1h1.25v1.25h-1.25zM223.1 145.4h1.25v1.25h-1.25zM227.3 150.2h1.25v1.25h-1.25zM230.0 151.8h1.25v1.25h-1.25zM237.7 152.2h1.25v1.25h-1.25zM239.4 152.8h1.25v1.25h-1.25zM222.1 143.2h1.25v1.25h-1.25zM225.8 157.0h1.25v1.25h-1.25zM235.9 137.6h1.25v1.25h-1.25zM217.4 152.4h1.25v1.25h-1.25zM228.1 149.8h1.25v1.25h-1.25zM230.7 152.5h1.25v1.25h-1.25zM240.2 159.5h1.25v1.25h-1.25zM236.2 156.8h1.25v1.25h-1.25zM229.1 138.4h1.25v1.25h-1.25zM228.8 134.6h1.25v1.25h-1.25zM229.6 152.1h1.25v1.25h-1.25zM242.0 139.3h1.25v1.25h-1.25zM228.4 146.3h1.25v1.25h-1.25zM229.2 152.3h1.25v1.25h-1.25zM233.8 134.9h1.25v1.25h-1.25zM230.5 131.6h1.25v1.25h-1.25zM230.0 148.2h1.25v1.25h-1.25zM223.6 146.7h1.25v1.25h-1.25zM231.3 144.7h1.25v1.25h-1.25zM228.3 146.6h1.25v1.25h-1.25zM239.5 140.4h1.25v1.25h-1.25zM235.9 135.8h1.25v1.25h-1.25zM231.2 145.2h1.25v1.25h-1.25zM236.1 139.6h1.25v1.25h-1.25zM229.0 134.9h1.25v1.25h-1.25zM238.7 149.9h1.25v1.25h-1.25zM231.3 145.9h1.25v1.25h-1.25zM235.5 149.2h1.25v1.25h-1.25zM222.3 139.4h1.25v1.25h-1.25zM233.8 141.8h1.25v1.25h-1.25zM219.6 139.4h1.25v1.25h-1.25zM217.1 140.2h1.25v1.25h-1.25zM229.2 147.7h1.25v1.25h-1.25zM225.1 140.9h1.25v1.25h-1.25zM232.5 148.9h1.25v1.25h-1.25zM247.1 148.8h1.25v1.25h-1.25zM225.6 160.6h1.25v1.25h-1.25zM227.0 136.6h1.25v1.25h-1.25zM232.8 152.6h1.25v1.25h-1.25zM234.8 145.7h1.25v1.25h-1.25zM230.1 146.3h1.25v1.25h-1.25zM229.9 136.2h1.25v1.25h-1.25zM236.3 143.2h1.25v1.25h-1.25zM235.0 151.6h1.25v1.25h-1.25zM224.1 145.8h1.25v1.25h-1.25zM230.8 146.9h1.25v1.25h-1.25zM231.6 144.3h1.25v1.25h-1.25zM224.0 154.5h1.25v1.25h-1.25zM233.2 146.2h1.25v1.25h-1.25zM225.4 131.0h1.25v1.25h-1.25zM238.2 141.5h1.25v1.25h-1.25zM232.7 132.6h1.25v1.25h-1.25zM227.2 142.7h1.25v1.25h-1.25zM230.5 155.7h1.25v1.25h-1.25zM217.4 146.7h1.25v1.25h-1.25zM223.5 138.2h1.25v1.25h-1.25zM233.9 139.8h1.25v1.25h-1.25zM216.5 154.3h1.25v1.25h-1.25zM237.3 147.5h1.25v1.25h-1.25zM219.2 146.7h1.25v1.25h-1.25zM236.7 146.0h1.25v1.25h-1.25zM248.7 142.4h1.25v1.25h-1.25zM254.8 131.3h1.25v1.25h-1.25zM252.8 139.1h1.25v1.25h-1.25zM250.1 147.3h1.25v1.25h-1.25zM240.0 133.9h1.25v1.25h-1.25zM252.5 147.8h1.25v1.25h-1.25zM242.9 143.4h1.25v1.25h-1.25zM257.1 135.1h1.25v1.25h-1.25zM238.2 138.4h1.25v1.25h-1.25zM247.3 138.6h1.25v1.25h-1.25zM248.3 141.1h1.25v1.25h-1.25zM237.8 138.2h1.25v1.25h-1.25zM262.2 136.4h1.25v1.25h-1.25zM260.1 139.5h1.25v1.25h-1.25zM244.7 135.2h1.25v1.25h-1.25zM254.5 133.6h1.25v1.25h-1.25zM251.4 141.1h1.25v1.25h-1.25zM227.5 146.7h1.25v1.25h-1.25zM250.4 132.2h1.25v1.25h-1.25zM247.9 141.4h1.25v1.25h-1.25zM249.0 137.5h1.25v1.25h-1.25zM239.8 135.5h1.25v1.25h-1.25zM246.2 146.5h1.25v1.25h-1.25zM246.9 138.3h1.25v1.25h-1.25zM257.9 150.4h1.25v1.25h-1.25zM251.1 136.7h1.25v1.25h-1.25zM248.3 143.7h1.25v1.25h-1.25zM260.6 140.0h1.25v1.25h-1.25zM243.9 136.9h1.25v1.25h-1.25zM245.3 144.9h1.25v1.25h-1.25zM233.8 140.4h1.25v1.25h-1.25zM260.9 145.0h1.25v1.25h-1.25zM256.1 141.1h1.25v1.25h-1.25zM255.7 134.9h1.25v1.25h-1.25zM253.7 140.8h1.25v1.25h-1.25zM249.3 141.7h1.25v1.25h-1.25zM250.1 147.1h1.25v1.25h-1.25zM246.4 135.9h1.25v1.25h-1.25zM246.7 141.1h1.25v1.25h-1.25zM248.8 131.0h1.25v1.25h-1.25zM260.5 145.3h1.25v1.25h-1.25zM252.8 134.9h1.25v1.25h-1.25zM247.9 130.5h1.25v1.25h-1.25zM243.7 141.0h1.25v1.25h-1.25zM243.3 148.0h1.25v1.25h-1.25zM261.2 132.2h1.25v1.25h-1.25zM252.4 134.8h1.25v1.25h-1.25zM248.9 136.9h1.25v1.25h-1.25zM245.6 134.6h1.25v1.25h-1.25zM239.5 143.7h1.25v1.25h-1.25zM247.8 136.5h1.25v1.25h-1.25zM255.4 137.0h1.25v1.25h-1.25zM245.2 144.9h1.25v1.25h-1.25zM246.6 136.8h1.25v1.25h-1.25zM246.6 144.0h1.25v1.25h-1.25zM249.3 135.5h1.25v1.25h-1.25zM235.6 134.1h1.25v1.25h-1.25zM246.5 130.4h1.25v1.25h-1.25zM241.5 152.5h1.25v1.25h-1.25zM255.5 139.5h1.25v1.25h-1.25zM242.2 142.8h1.25v1.25h-1.25zM253.0 141.2h1.25v1.25h-1.25zM260.6 142.3h1.25v1.25h-1.25zM245.9 141.7h1.25v1.25h-1.25zM243.6 152.8h1.25v1.25h-1.25zM249.9 135.1h1.25v1.25h-1.25zM248.4 132.0h1.25v1.25h-1.25zM240.4 135.3h1.25v1.25h-1.25zM252.1 133.4h1.25v1.25h-1.25zM264.5 145.9h1.25v1.25h-1.25zM246.3 146.3h1.25v1.25h-1.25zM246.8 135.6h1.25v1.25h-1.25zM240.0 133.0h1.25v1.25h-1.25zM250.9 139.2h1.25v1.25h-1.25zM238.4 149.7h1.25v1.25h-1.25zM258.6 144.5h1.25v1.25h-1.25zM241.1 134.9h1.25v1.25h-1.25zM257.0 147.6h1.25v1.25h-1.25zM260.6 134.9h1.25v1.25h-1.25zM250.4 139.7h1.25v1.25h-1.25zM252.8 132.3h1.25v1.25h-1.25zM264.0 135.5h1.25v1.25h-1.25zM246.8 149.7h1.25v1.25h-1.25zM243.6 146.3h1.25v1.25h-1.25zM237.5 139.0h1.25v1.25h-1.25zM248.7 136.2h1.25v1.25h-1.25zM260.2 130.0h1.25v1.25h-1.25zM256.1 139.0h1.25v1.25h-1.25zM240.8 141.2h1.25v1.25h-1.25zM241.5 140.9h1.25v1.25h-1.25zM244.3 140.8h1.25v1.25h-1.25zM250.7 134.6h1.25v1.25h-1.25zM246.7 141.0h1.25v1.25h-1.25zM250.1 141.1h1.25v1.25h-1.25zM250.7 149.1h1.25v1.25h-1.25zM246.0 152.6h1.25v1.25h-1.25zM248.1 140.6h1.25v1.25h-1.25zM250.0 136.8h1.25v1.25h-1.25zM247.7 141.0h1.25v1.25h-1.25zM252.4 137.7h1.25v1.25h-1.25zM263.3 136.9h1.25v1.25h-1.25zM253.1 141.0h1.25v1.25h-1.25zM248.8 135.1h1.25v1.25h-1.25zM234.9 145.0h1.25v1.25h-1.25zM251.5 140.8h1.25v1.25h-1.25zM232.8 142.9h1.25v1.25h-1.25zM237.1 140.3h1.25v1.25h-1.25zM255.2 137.0h1.25v1.25h-1.25zM254.0 135.7h1.25v1.25h-1.25zM247.2 140.0h1.25v1.25h-1.25zM234.7 138.1h1.25v1.25h-1.25zM245.4 142.8h1.25v1.25h-1.25zM242.9 141.3h1.25v1.25h-1.25zM253.5 133.2h1.25v1.25h-1.25zM266.4 141.8h1.25v1.25h-1.25zM250.1 133.3h1.25v1.25h-1.25zM242.1 137.7h1.25v1.25h-1.25zM239.0 139.6h1.25v1.25h-1.25zM247.9 128.9h1.25v1.25h-1.25zM247.0 141.9h1.25v1.25h-1.25zM239.2 142.3h1.25v1.25h-1.25zM249.3 140.4h1.25v1.25h-1.25zM239.2 138.8h1.25v1.25h-1.25zM257.3 139.1h1.25v1.25h-1.25zM256.9 135.5h1.25v1.25h-1.25zM257.1 139.8h1.25v1.25h-1.25zM244.6 138.1h1.25v1.25h-1.25zM252.5 141.9h1.25v1.25h-1.25zM247.3 134.2h1.25v1.25h-1.25zM245.3 142.8h1.25v1.25h-1.25zM245.7 142.2h1.25v1.25h-1.25zM238.0 140.5h1.25v1.25h-1.25zM236.8 138.7h1.25v1.25h-1.25zM254.7 144.7h1.25v1.25h-1.25zM246.8 131.4h1.25v1.25h-1.25zM250.1 144.1h1.25v1.25h-1.25zM256.4 142.8h1.25v1.25h-1.25zM234.5 143.1h1.25v1.25h-1.25zM242.1 143.7h1.25v1.25h-1.25zM249.8 137.5h1.25v1.25h-1.25zM251.5 139.8h1.25v1.25h-1.25zM245.4 145.2h1.25v1.25h-1.25zM256.6 144.0h1.25v1.25h-1.25zM250.1 142.6h1.25v1.25h-1.25zM238.7 132.3h1.25v1.25h-1.25zM240.9 144.6h1.25v1.25h-1.25zM254.8 148.4h1.25v1.25h-1.25zM252.1 147.4h1.25v1.25h-1.25zM233.2 142.8h1.25v1.25h-1.25zM259.2 132.0h1.25v1.25h-1.25zM253.2 147.0h1.25v1.25h-1.25zM259.1 140.5h1.25v1.25h-1.25zM246.0 143.6h1.25v1.25h-1.25zM239.4 132.4h1.25v1.25h-1.25zM247.0 137.6h1.25v1.25h-1.25zM261.1 149.0h1.25v1.25h-1.25zM243.2 139.1h1.25v1.25h-1.25zM258.0 136.2h1.25v1.25h-1.25zM266.9 157.5h1.25v1.25h-1.25zM265.9 150.8h1.25v1.25h-1.25zM255.8 155.8h1.25v1.25h-1.25zM254.9 157.8h1.25v1.25h-1.25zM248.8 149.6h1.25v1.25h-1.25zM252.2 138.9h1.25v1.25h-1.25zM258.9 155.3h1.25v1.25h-1.25zM258.7 146.4h1.25v1.25h-1.25zM257.0 149.7h1.25v1.25h-1.25zM262.3 147.5h1.25v1.25h-1.25zM251.7 149.6h1.25v1.25h-1.25zM256.0 133.9h1.25v1.25h-1.25zM260.8 162.1h1.25v1.25h-1.25zM259.9 154.4h1.25v1.25h-1.25zM262.8 161.3h1.25v1.25h-1.25zM258.8 168.2h1.25v1.25h-1.25zM254.5 152.6h1.25v1.25h-1.25zM258.5 138.0h1.25v1.25h-1.25zM250.4 145.2h1.25v1.25h-1.25zM246.5 142.7h1.25v1.25h-1.25zM259.9 148.4h1.25v1.25h-1.25zM256.0 153.0h1.25v1.25h-1.25zM258.2 136.4h1.25v1.25h-1.25zM246.2 155.1h1.25v1.25h-1.25zM254.2 140.3h1.25v1.25h-1.25zM252.8 154.8h1.25v1.25h-1.25zM251.2 151.5h1.25v1.25h-1.25zM242.8 149.9h1.25v1.25h-1.25zM254.4 151.8h1.25v1.25h-1.25zM261.8 148.1h1.25v1.25h-1.25zM258.7 147.5h1.25v1.25h-1.25zM252.8 138.9h1.25v1.25h-1.25zM256.3 152.1h1.25v1.25h-1.25zM260.9 167.1h1.25v1.25h-1.25zM239.8 168.2h1.25v1.25h-1.25zM255.6 162.9h1.25v1.25h-1.25zM259.6 158.0h1.25v1.25h-1.25zM260.5 147.0h1.25v1.25h-1.25zM266.6 163.9h1.25v1.25h-1.25zM263.2 151.9h1.25v1.25h-1.25zM258.3 151.8h1.25v1.25h-1.25zM258.2 150.0h1.25v1.25h-1.25zM261.1 153.1h1.25v1.25h-1.25zM253.1 148.9h1.25v1.25h-1.25zM256.1 151.7h1.25v1.25h-1.25zM261.8 143.7h1.25v1.25h-1.25zM255.4 170.6h1.25v1.25h-1.25zM256.1 151.8h1.25v1.25h-1.25zM257.6 150.5h1.25v1.25h-1.25zM264.4 156.6h1.25v1.25h-1.25zM256.2 158.0h1.25v1.25h-1.25zM265.2 143.5h1.25v1.25h-1.25zM250.6 150.7h1.25v1.25h-1.25zM255.3 159.7h1.25v1.25h-1.25zM255.2 154.5h1.25v1.25h-1.25zM261.1 153.4h1.25v1.25h-1.25zM262.6 164.8h1.25v1.25h-1.25zM247.3 147.0h1.25v1.25h-1.25zM250.9 153.0h1.25v1.25h-1.25zM258.4 148.2h1.25v1.25h-1.25zM252.4 164.3h1.25v1.25h-1.25zM247.2 136.8h1.25v1.25h-1.25zM262.6 147.0h1.25v1.25h-1.25zM259.3 148.1h1.25v1.25h-1.25zM259.3 157.7h1.25v1.25h-1.25zM253.5 157.2h1.25v1.25h-1.25zM262.5 163.5h1.25v1.25h-1.25zM254.9 139.8h1.25v1.25h-1.25zM263.0 158.4h1.25v1.25h-1.25zM250.9 150.0h1.25v1.25h-1.25zM251.3 147.0h1.25v1.25h-1.25zM257.6 156.7h1.25v1.25h-1.25zM252.2 145.0h1.25v1.25h-1.25zM260.4 135.8h1.25v1.25h-1.25zM257.9 149.4h1.25v1.25h-1.25zM250.8 140.4h1.25v1.25h-1.25zM256.8 147.2h1.25v1.25h-1.25zM254.3 155.3h1.25v1.25h-1.25zM261.9 154.9h1.25v1.25h-1.25zM252.6 165.1h1.25v1.25h-1.25zM253.7 150.8h1.25v1.25h-1.25zM263.6 140.1h1.25v1.25h-1.25zM256.8 142.6h1.25v1.25h-1.25zM257.7 155.9h1.25v1.25h-1.25zM265.6 147.2h1.25v1.25h-1.25zM255.6 136.6h1.25v1.25h-1.25zM250.5 158.0h1.25v1.25h-1.25zM257.1 151.5h1.25v1.25h-1.25zM259.1 155.2h1.25v1.25h-1.25zM251.4 153.2h1.25v1.25h-1.25zM246.5 157.4h1.25v1.25h-1.25zM247.8 152.7h1.25v1.25h-1.25zM260.4 162.3h1.25v1.25h-1.25zM251.8 155.8h1.25v1.25h-1.25zM255.5 155.5h1.25v1.25h-1.25zM257.7 155.7h1.25v1.25h-1.25zM260.1 140.7h1.25v1.25h-1.25zM254.4 151.1h1.25v1.25h-1.25zM259.4 150.3h1.25v1.25h-1.25zM251.0 154.0h1.25v1.25h-1.25zM254.2 141.5h1.25v1.25h-1.25zM250.2 165.4h1.25v1.25h-1.25zM263.2 153.2h1.25v1.25h-1.25zM256.2 142.7h1.25v1.25h-1.25zM251.9 138.7h1.25v1.25h-1.25zM254.3 150.1h1.25v1.25h-1.25zM255.0 151.7h1.25v1.25h-1.25zM260.6 146.6h1.25v1.25h-1.25zM246.8 153.1h1.25v1.25h-1.25zM250.2 147.2h1.25v1.25h-1.25zM254.1 156.8h1.25v1.25h-1.25zM262.1 152.1h1.25v1.25h-1.25zM255.7 160.2h1.25v1.25h-1.25zM260.6 172.9h1.25v1.25h-1.25zM255.0 148.7h1.25v1.25h-1.25zM254.2 145.7h1.25v1.25h-1.25zM263.6 158.6h1.25v1.25h-1.25zM259.3 143.2h1.25v1.25h-1.25zM260.4 148.5h1.25v1.25h-1.25zM253.3 152.1h1.25v1.25h-1.25zM266.6 144.7h1.25v1.25h-1.25zM259.8 148.6h1.25v1.25h-1.25zM260.5 135.6h1.25v1.25h-1.25zM226.9 158.4h1.25v1.25h-1.25zM237.2 159.9h1.25v1.25h-1.25zM242.9 153.2h1.25v1.25h-1.25zM239.5 158.2h1.25v1.25h-1.25zM223.6 156.2h1.25v1.25h-1.25zM236.7 153.7h1.25v1.25h-1.25zM249.4 153.9h1.25v1.25h-1.25zM246.9 156.7h1.25v1.25h-1.25zM240.6 156.5h1.25v1.25h-1.25zM232.5 153.5h1.25v1.25h-1.25zM247.7 154.2h1.25v1.25h-1.25zM235.6 161.9h1.25v1.25h-1.25zM229.7 157.4h1.25v1.25h-1.25zM233.4 160.8h1.25v1.25h-1.25zM255.9 162.4h1.25v1.25h-1.25zM243.6 159.3h1.25v1.25h-1.25zM253.0 167.7h1.25v1.25h-1.25zM236.6 152.2h1.25v1.25h-1.25zM250.8 160.4h1.25v1.25h-1.25zM235.4 154.8h1.25v1.25h-1.25zM239.8 165.7h1.25v1.25h-1.25zM266.2 164.9h1.25v1.25h-1.25zM249.0 146.6h1.25v1.25h-1.25zM236.4 151.5h1.25v1.25h-1.25zM240.5 159.7h1.25v1.25h-1.25zM244.6 160.3h1.25v1.25h-1.25zM253.5 160.1h1.25v1.25h-1.25zM236.5 156.0h1.25v1.25h-1.25zM224.0 158.7h1.25v1.25h-1.25zM238.6 159.6h1.25v1.25h-1.25zM241.5 156.0h1.25v1.25h-1.25zM242.5 161.5h1.25v1.25h-1.25zM254.5 145.1h1.25v1.25h-1.25zM244.5 159.5h1.25v1.25h-1.25zM249.5 151.2h1.25v1.25h-1.25zM230.4 161.2h1.25v1.25h-1.25zM250.1 155.2h1.25v1.25h-1.25zM262.3 151.9h1.25v1.25h-1.25zM249.1 158.2h1.25v1.25h-1.25zM243.9 151.8h1.25v1.25h-1.25zM242.9 151.8h1.25v1.25h-1.25zM259.2 148.5h1.25v1.25h-1.25zM232.1 156.2h1.25v1.25h-1.25zM240.3 158.9h1.25v1.25h-1.25zM246.0 161.5h1.25v1.25h-1.25zM248.8 155.7h1.25v1.25h-1.25zM237.0 161.6h1.25v1.25h-1.25zM244.4 156.5h1.25v1.25h-1.25zM238.6 155.9h1.25v1.25h-1.25zM242.6 159.2h1.25v1.25h-1.25zM240.1 161.7h1.25v1.25h-1.25zM230.0 154.7h1.25v1.25h-1.25zM241.2 155.2h1.25v1.25h-1.25zM250.1 155.6h1.25v1.25h-1.25zM231.7 156.8h1.25v1.25h-1.25zM239.0 151.9h1.25v1.25h-1.25zM248.0 161.5h1.25v1.25h-1.25zM230.7 154.4h1.25v1.25h-1.25zM243.2 158.7h1.25v1.25h-1.25zM230.8 152.2h1.25v1.25h-1.25zM252.7 158.2h1.25v1.25h-1.25zM264.5 158.3h1.25v1.25h-1.25zM261.6 154.3h1.25v1.25h-1.25zM239.2 166.5h1.25v1.25h-1.25zM248.8 158.2h1.25v1.25h-1.25zM242.6 165.3h1.25v1.25h-1.25zM242.4 161.2h1.25v1.25h-1.25zM256.9 153.1h1.25v1.25h-1.25zM228.2 154.5h1.25v1.25h-1.25zM251.9 158.6h1.25v1.25h-1.25zM240.9 156.7h1.25v1.25h-1.25zM255.5 156.6h1.25v1.25h-1.25zM243.2 154.9h1.25v1.25h-1.25zM234.6 147.3h1.25v1.25h-1.25zM244.1 155.2h1.25v1.25h-1.25zM248.7 145.3h1.25v1.25h-1.25zM241.7 158.2h1.25v1.25h-1.25zM246.3 152.7h1.25v1.25h-1.25zM236.2 152.8h1.25v1.25h-1.25zM220.0 155.3h1.25v1.25h-1.25zM250.4 157.7h1.25v1.25h-1.25zM248.4 149.2h1.25v1.25h-1.25zM242.9 147.6h1.25v1.25h-1.25zM242.1 151.0h1.25v1.25h-1.25zM251.7 146.2h1.25v1.25h-1.25zM236.8 151.5h1.25v1.25h-1.25zM234.3 164.3h1.25v1.25h-1.25zM239.5 151.1h1.25v1.25h-1.25zM253.3 159.6h1.25v1.25h-1.25zM227.5 149.5h1.25v1.25h-1.25zM253.3 157.9h1.25v1.25h-1.25zM235.0 154.8h1.25v1.25h-1.25zM230.4 156.1h1.25v1.25h-1.25zM254.0 159.2h1.25v1.25h-1.25zM240.4 165.2h1.25v1.25h-1.25zM228.4 157.3h1.25v1.25h-1.25zM237.8 157.0h1.25v1.25h-1.25zM250.7 151.5h1.25v1.25h-1.25zM253.3 159.3h1.25v1.25h-1.25zM237.1 155.1h1.25v1.25h-1.25zM256.6 126.7h1.25v1.25h-1.25zM237.7 126.6h1.25v1.25h-1.25zM267.0 125.4h1.25v1.25h-1.25zM256.2 129.8h1.25v1.25h-1.25zM244.3 125.6h1.25v1.25h-1.25zM244.0 128.2h1.25v1.25h-1.25zM258.5 126.2h1.25v1.25h-1.25zM234.4 129.9h1.25v1.25h-1.25zM253.0 130.0h1.25v1.25h-1.25zM256.1 123.6h1.25v1.25h-1.25zM248.0 130.3h1.25v1.25h-1.25zM262.3 127.6h1.25v1.25h-1.25zM203.8 156.3h1.25v1.25h-1.25zM193.0 160.9h1.25v1.25h-1.25zM206.9 141.8h1.25v1.25h-1.25zM201.2 151.7h1.25v1.25h-1.25zM209.0 148.2h1.25v1.25h-1.25zM216.1 140.2h1.25v1.25h-1.25zM214.4 146.9h1.25v1.25h-1.25zM197.6 153.3h1.25v1.25h-1.25zM208.9 143.0h1.25v1.25h-1.25zM215.4 148.5h1.25v1.25h-1.25zM202.1 154.5h1.25v1.25h-1.25zM200.0 154.1h1.25v1.25h-1.25zM206.6 152.5h1.25v1.25h-1.25zM197.7 159.3h1.25v1.25h-1.25zM215.1 144.0h1.25v1.25h-1.25zM185.7 152.7h1.25v1.25h-1.25zM197.2 152.2h1.25v1.25h-1.25zM202.8 149.2h1.25v1.25h-1.25zM202.0 147.5h1.25v1.25h-1.25zM206.8 149.2h1.25v1.25h-1.25zM209.4 151.6h1.25v1.25h-1.25zM203.1 148.9h1.25v1.25h-1.25zM210.1 141.2h1.25v1.25h-1.25zM196.3 164.4h1.25v1.25h-1.25zM204.5 148.1h1.25v1.25h-1.25zM198.5 148.9h1.25v1.25h-1.25zM206.7 149.5h1.25v1.25h-1.25zM207.6 149.6h1.25v1.25h-1.25zM198.4 151.3h1.25v1.25h-1.25zM203.0 154.4h1.25v1.25h-1.25zM209.3 144.6h1.25v1.25h-1.25zM205.7 145.2h1.25v1.25h-1.25zM201.6 152.8h1.25v1.25h-1.25zM219.5 142.8h1.25v1.25h-1.25zM218.3 137.6h1.25v1.25h-1.25zM197.1 156.6h1.25v1.25h-1.25zM207.0 147.8h1.25v1.25h-1.25zM226.5 146.7h1.25v1.25h-1.25zM208.8 144.0h1.25v1.25h-1.25zM209.5 152.4h1.25v1.25h-1.25zM204.0 150.1h1.25v1.25h-1.25zM201.8 151.3h1.25v1.25h-1.25zM205.5 152.4h1.25v1.25h-1.25zM203.8 154.3h1.25v1.25h-1.25zM212.5 149.8h1.25v1.25h-1.25zM203.6 152.0h1.25v1.25h-1.25zM201.5 149.6h1.25v1.25h-1.25zM196.9 153.0h1.25v1.25h-1.25zM206.1 151.0h1.25v1.25h-1.25zM201.0 154.9h1.25v1.25h-1.25zM207.1 154.2h1.25v1.25h-1.25zM212.6 146.1h1.25v1.25h-1.25zM209.8 150.8h1.25v1.25h-1.25zM211.5 151.6h1.25v1.25h-1.25zM207.9 148.3h1.25v1.25h-1.25zM202.8 144.9h1.25v1.25h-1.25zM202.2 146.5h1.25v1.25h-1.25zM200.6 146.6h1.25v1.25h-1.25zM213.2 150.7h1.25v1.25h-1.25zM197.0 151.6h1.25v1.25h-1.25zM216.1 147.1h1.25v1.25h-1.25zM206.8 150.9h1.25v1.25h-1.25zM204.2 157.5h1.25v1.25h-1.25zM204.4 154.4h1.25v1.25h-1.25zM201.0 152.0h1.25v1.25h-1.25zM206.0 148.1h1.25v1.25h-1.25zM201.1 152.7h1.25v1.25h-1.25zM212.7 145.0h1.25v1.25h-1.25zM199.5 151.2h1.25v1.25h-1.25zM191.3 159.1h1.25v1.25h-1.25zM204.1 157.1h1.25v1.25h-1.25zM189.6 153.1h1.25v1.25h-1.25zM205.6 150.3h1.25v1.25h-1.25zM210.1 142.2h1.25v1.25h-1.25zM209.7 147.1h1.25v1.25h-1.25zM198.8 157.5h1.25v1.25h-1.25zM200.6 152.5h1.25v1.25h-1.25zM217.9 143.9h1.25v1.25h-1.25zM204.1 143.4h1.25v1.25h-1.25zM207.6 152.5h1.25v1.25h-1.25zM210.7 143.1h1.25v1.25h-1.25zM221.7 140.6h1.25v1.25h-1.25zM213.7 144.3h1.25v1.25h-1.25zM201.0 141.4h1.25v1.25h-1.25zM206.0 145.7h1.25v1.25h-1.25zM209.6 147.4h1.25v1.25h-1.25zM204.7 156.5h1.25v1.25h-1.25zM199.4 154.8h1.25v1.25h-1.25zM206.2 149.9h1.25v1.25h-1.25zM196.7 149.4h1.25v1.25h-1.25zM207.9 153.7h1.25v1.25h-1.25zM209.6 154.1h1.25v1.25h-1.25zM219.8 139.4h1.25v1.25h-1.25zM199.7 152.4h1.25v1.25h-1.25zM201.4 145.3h1.25v1.25h-1.25zM206.1 152.6h1.25v1.25h-1.25zM213.5 155.2h1.25v1.25h-1.25zM213.2 146.9h1.25v1.25h-1.25zM204.9 155.1h1.25v1.25h-1.25zM201.4 154.5h1.25v1.25h-1.25zM193.3 153.6h1.25v1.25h-1.25zM202.4 157.2h1.25v1.25h-1.25zM206.2 143.5h1.25v1.25h-1.25zM205.2 148.6h1.25v1.25h-1.25zM199.7 154.5h1.25v1.25h-1.25zM204.9 153.5h1.25v1.25h-1.25zM206.4 150.4h1.25v1.25h-1.25zM209.2 148.3h1.25v1.25h-1.25zM200.2 149.7h1.25v1.25h-1.25zM201.2 146.8h1.25v1.25h-1.25zM194.3 157.4h1.25v1.25h-1.25zM196.9 152.3h1.25v1.25h-1.25zM212.7 138.7h1.25v1.25h-1.25zM189.4 155.2h1.25v1.25h-1.25zM202.3 149.4h1.25v1.25h-1.25zM203.0 143.1h1.25v1.25h-1.25zM200.4 147.1h1.25v1.25h-1.25zM197.1 148.2h1.25v1.25h-1.25zM205.4 150.2h1.25v1.25h-1.25zM206.2 150.6h1.25v1.25h-1.25zM208.9 155.5h1.25v1.25h-1.25zM190.8 153.2h1.25v1.25h-1.25zM203.1 148.1h1.25v1.25h-1.25zM202.0 155.7h1.25v1.25h-1.25zM201.6 151.1h1.25v1.25h-1.25zM206.1 147.5h1.25v1.25h-1.25zM212.7 151.5h1.25v1.25h-1.25zM210.2 144.5h1.25v1.25h-1.25zM200.0 148.2h1.25v1.25h-1.25zM208.4 141.6h1.25v1.25h-1.25zM213.3 145.3h1.25v1.25h-1.25zM213.0 145.4h1.25v1.25h-1.25zM211.2 139.5h1.25v1.25h-1.25zM202.5 147.2h1.25v1.25h-1.25zM205.4 151.7h1.25v1.25h-1.25zM211.6 147.5h1.25v1.25h-1.25zM195.7 153.4h1.25v1.25h-1.25zM207.9 150.3h1.25v1.25h-1.25zM203.3 153.3h1.25v1.25h-1.25zM199.5 145.8h1.25v1.25h-1.25zM194.0 156.0h1.25v1.25h-1.25zM200.7 154.4h1.25v1.25h-1.25zM204.1 147.8h1.25v1.25h-1.25zM206.5 139.4h1.25v1.25h-1.25zM210.9 144.3h1.25v1.25h-1.25zM206.4 151.9h1.25v1.25h-1.25zM207.4 154.7h1.25v1.25h-1.25zM195.9 146.7h1.25v1.25h-1.25zM213.1 155.1h1.25v1.25h-1.25zM201.6 147.2h1.25v1.25h-1.25zM211.0 149.5h1.25v1.25h-1.25zM218.6 145.4h1.25v1.25h-1.25zM207.1 152.3h1.25v1.25h-1.25zM196.5 156.2h1.25v1.25h-1.25zM197.8 149.7h1.25v1.25h-1.25zM197.7 157.4h1.25v1.25h-1.25zM196.6 152.5h1.25v1.25h-1.25zM208.3 136.5h1.25v1.25h-1.25zM212.4 156.5h1.25v1.25h-1.25zM197.5 157.9h1.25v1.25h-1.25zM213.0 151.8h1.25v1.25h-1.25zM211.3 141.3h1.25v1.25h-1.25zM206.1 155.1h1.25v1.25h-1.25zM204.4 156.8h1.25v1.25h-1.25zM206.4 155.3h1.25v1.25h-1.25zM207.1 148.1h1.25v1.25h-1.25zM206.9 143.2h1.25v1.25h-1.25zM212.3 143.8h1.25v1.25h-1.25zM208.4 137.8h1.25v1.25h-1.25zM209.2 139.4h1.25v1.25h-1.25zM220.8 137.8h1.25v1.25h-1.25zM215.4 143.8h1.25v1.25h-1.25zM219.6 141.9h1.25v1.25h-1.25zM219.8 147.5h1.25v1.25h-1.25zM230.0 155.7h1.25v1.25h-1.25zM226.9 146.6h1.25v1.25h-1.25zM220.2 142.2h1.25v1.25h-1.25zM226.4 141.5h1.25v1.25h-1.25zM216.5 138.1h1.25v1.25h-1.25zM218.7 137.8h1.25v1.25h-1.25zM224.9 137.4h1.25v1.25h-1.25zM214.2 140.4h1.25v1.25h-1.25zM219.0 140.2h1.25v1.25h-1.25zM213.8 146.1h1.25v1.25h-1.25zM221.0 140.4h1.25v1.25h-1.25zM228.5 141.4h1.25v1.25h-1.25zM216.6 136.3h1.25v1.25h-1.25zM221.5 150.6h1.25v1.25h-1.25zM215.9 144.9h1.25v1.25h-1.25zM214.6 151.3h1.25v1.25h-1.25zM214.2 146.4h1.25v1.25h-1.25zM227.6 149.8h1.25v1.25h-1.25zM232.2 141.1h1.25v1.25h-1.25zM222.8 146.0h1.25v1.25h-1.25zM216.8 155.9h1.25v1.25h-1.25zM223.9 136.3h1.25v1.25h-1.25zM218.7 148.3h1.25v1.25h-1.25zM224.4 150.9h1.25v1.25h-1.25zM221.8 144.5h1.25v1.25h-1.25zM221.8 146.2h1.25v1.25h-1.25zM223.4 148.8h1.25v1.25h-1.25zM217.5 139.0h1.25v1.25h-1.25zM218.4 144.5h1.25v1.25h-1.25zM211.8 137.9h1.25v1.25h-1.25zM218.2 138.9h1.25v1.25h-1.25zM213.3 139.2h1.25v1.25h-1.25zM219.7 141.6h1.25v1.25h-1.25zM215.6 143.1h1.25v1.25h-1.25zM220.9 144.7h1.25v1.25h-1.25zM222.6 135.1h1.25v1.25h-1.25zM213.3 152.5h1.25v1.25h-1.25zM216.3 148.3h1.25v1.25h-1.25zM215.7 146.1h1.25v1.25h-1.25zM224.1 140.5h1.25v1.25h-1.25zM228.9 141.9h1.25v1.25h-1.25zM224.6 145.2h1.25v1.25h-1.25zM218.6 144.5h1.25v1.25h-1.25zM227.7 133.8h1.25v1.25h-1.25zM212.8 146.2h1.25v1.25h-1.25zM227.9 157.3h1.25v1.25h-1.25zM217.1 132.9h1.25v1.25h-1.25zM206.5 147.5h1.25v1.25h-1.25zM233.6 144.3h1.25v1.25h-1.25zM228.3 141.8h1.25v1.25h-1.25zM215.2 149.4h1.25v1.25h-1.25zM221.2 136.3h1.25v1.25h-1.25zM219.3 143.2h1.25v1.25h-1.25zM220.9 149.9h1.25v1.25h-1.25zM213.0 141.4h1.25v1.25h-1.25zM217.0 140.2h1.25v1.25h-1.25zM222.7 143.0h1.25v1.25h-1.25zM221.5 140.1h1.25v1.25h-1.25zM226.4 150.3h1.25v1.25h-1.25zM220.8 137.7h1.25v1.25h-1.25zM232.1 146.9h1.25v1.25h-1.25zM216.8 135.9h1.25v1.25h-1.25zM221.7 145.8h1.25v1.25h-1.25zM210.8 141.8h1.25v1.25h-1.25zM214.1 129.1h1.25v1.25h-1.25zM227.0 142.3h1.25v1.25h-1.25zM215.7 136.9h1.25v1.25h-1.25zM223.0 140.1h1.25v1.25h-1.25zM220.1 150.3h1.25v1.25h-1.25zM215.2 136.6h1.25v1.25h-1.25zM218.6 136.9h1.25v1.25h-1.25zM217.8 149.8h1.25v1.25h-1.25zM217.9 143.0h1.25v1.25h-1.25zM224.1 150.3h1.25v1.25h-1.25zM223.6 144.0h1.25v1.25h-1.25zM217.5 137.8h1.25v1.25h-1.25zM205.9 146.8h1.25v1.25h-1.25zM203.4 148.9h1.25v1.25h-1.25zM189.9 156.7h1.25v1.25h-1.25zM217.0 143.3h1.25v1.25h-1.25zM209.9 141.6h1.25v1.25h-1.25zM200.5 148.2h1.25v1.25h-1.25zM188.3 159.4h1.25v1.25h-1.25zM190.2 157.8h1.25v1.25h-1.25zM196.0 152.7h1.25v1.25h-1.25zM193.8 153.3h1.25v1.25h-1.25zM182.6 158.8h1.25v1.25h-1.25zM197.5 152.9h1.25v1.25h-1.25zM201.1 155.1h1.25v1.25h-1.25zM191.3 153.0h1.25v1.25h-1.25zM199.0 157.5h1.25v1.25h-1.25zM195.9 156.9h1.25v1.25h-1.25zM195.8 152.5h1.25v1.25h-1.25zM207.3 150.2h1.25v1.25h-1.25zM199.1 147.1h1.25v1.25h-1.25zM186.7 153.3h1.25v1.25h-1.25zM211.3 140.7h1.25v1.25h-1.25zM201.3 149.5h1.25v1.25h-1.25zM199.2 151.0h1.25v1.25h-1.25zM209.1 144.6h1.25v1.25h-1.25zM211.6 145.3h1.25v1.25h-1.25zM212.1 137.3h1.25v1.25h-1.25zM214.6 145.0h1.25v1.25h-1.25zM206.0 143.3h1.25v1.25h-1.25zM209.2 144.1h1.25v1.25h-1.25zM187.0 157.7h1.25v1.25h-1.25zM207.6 143.3h1.25v1.25h-1.25zM189.5 153.0h1.25v1.25h-1.25zM190.2 153.8h1.25v1.25h-1.25zM186.2 159.6h1.25v1.25h-1.25zM198.1 154.8h1.25v1.25h-1.25zM183.0 163.4h1.25v1.25h-1.25zM206.2 144.7h1.25v1.25h-1.25zM210.1 143.1h1.25v1.25h-1.25zM211.0 142.1h1.25v1.25h-1.25zM187.2 160.6h1.25v1.25h-1.25zM204.0 142.3h1.25v1.25h-1.25zM216.8 146.3h1.25v1.25h-1.25zM182.1 160.3h1.25v1.25h-1.25zM187.9 155.9h1.25v1.25h-1.25zM192.6 157.1h1.25v1.25h-1.25zM201.4 154.4h1.25v1.25h-1.25zM188.8 159.3h1.25v1.25h-1.25zM204.5 152.7h1.25v1.25h-1.25zM195.3 154.8h1.25v1.25h-1.25zM209.4 150.5h1.25v1.25h-1.25zM204.5 153.4h1.25v1.25h-1.25zM208.7 146.3h1.25v1.25h-1.25zM193.4 160.5h1.25v1.25h-1.25zM209.9 146.5h1.25v1.25h-1.25zM210.9 145.7h1.25v1.25h-1.25zM208.9 143.4h1.25v1.25h-1.25zM183.7 160.0h1.25v1.25h-1.25zM220.4 142.6h1.25v1.25h-1.25zM202.5 145.7h1.25v1.25h-1.25zM193.2 157.8h1.25v1.25h-1.25zM199.3 153.3h1.25v1.25h-1.25zM202.5 151.2h1.25v1.25h-1.25zM198.8 144.7h1.25v1.25h-1.25zM191.1 156.4h1.25v1.25h-1.25zM192.9 158.0h1.25v1.25h-1.25zM194.8 152.0h1.25v1.25h-1.25zM212.7 144.6h1.25v1.25h-1.25zM195.3 146.1h1.25v1.25h-1.25zM183.9 163.2h1.25v1.25h-1.25zM198.5 150.3h1.25v1.25h-1.25zM190.7 160.0h1.25v1.25h-1.25zM179.1 157.3h1.25v1.25h-1.25zM221.5 141.7h1.25v1.25h-1.25zM192.8 155.0h1.25v1.25h-1.25zM204.1 152.1h1.25v1.25h-1.25zM194.3 151.7h1.25v1.25h-1.25zM182.6 159.5h1.25v1.25h-1.25zM220.8 147.5h1.25v1.25h-1.25zM217.6 138.7h1.25v1.25h-1.25zM187.8 156.3h1.25v1.25h-1.25zM197.7 152.0h1.25v1.25h-1.25zM194.8 151.1h1.25v1.25h-1.25zM189.8 161.6h1.25v1.25h-1.25zM210.4 151.6h1.25v1.25h-1.25zM211.6 142.6h1.25v1.25h-1.25zM209.2 140.4h1.25v1.25h-1.25zM210.1 149.9h1.25v1.25h-1.25zM183.7 164.9h1.25v1.25h-1.25zM191.8 159.2h1.25v1.25h-1.25zM203.7 153.5h1.25v1.25h-1.25zM208.2 144.0h1.25v1.25h-1.25zM196.6 153.0h1.25v1.25h-1.25zM197.3 148.4h1.25v1.25h-1.25zM212.9 139.4h1.25v1.25h-1.25zM183.8 164.4h1.25v1.25h-1.25zM191.1 154.4h1.25v1.25h-1.25zM196.4 161.6h1.25v1.25h-1.25zM221.2 139.7h1.25v1.25h-1.25zM189.5 155.5h1.25v1.25h-1.25zM184.5 163.4h1.25v1.25h-1.25zM166.8 183.1h1.25v1.25h-1.25zM275.1 191.1h1.25v1.25h-1.25zM262.9 167.4h1.25v1.25h-1.25zM173.0 186.4h1.25v1.25h-1.25zM231.4 189.7h1.25v1.25h-1.25zM226.6 170.5h1.25v1.25h-1.25zM244.6 172.6h1.25v1.25h-1.25zM194.3 169.7h1.25v1.25h-1.25zM204.3 157.6h1.25v1.25h-1.25zM185.7 165.9h1.25v1.25h-1.25zM192.3 169.6h1.25v1.25h-1.25zM177.2 161.4h1.25v1.25h-1.25zM271.9 185.7h1.25v1.25h-1.25zM269.7 173.2h1.25v1.25h-1.25zM201.2 178.4h1.25v1.25h-1.25zM244.5 167.9h1.25v1.25h-1.25zM218.1 170.7h1.25v1.25h-1.25zM190.9 185.3h1.25v1.25h-1.25zM199.8 174.8h1.25v1.25h-1.25zM279.8 179.4h1.25v1.25h-1.25zM198.8 173.0h1.25v1.25h-1.25zM229.6 178.0h1.25v1.25h-1.25zM277.2 190.6h1.25v1.25h-1.25zM193.1 167.3h1.25v1.25h-1.25zM259.5 176.6h1.25v1.25h-1.25zM169.2 182.8h1.25v1.25h-1.25zM249.7 160.6h1.25v1.25h-1.25zM259.2 193.0h1.25v1.25h-1.25zM263.2 175.8h1.25v1.25h-1.25zM281.1 166.5h1.25v1.25h-1.25zM246.8 185.5h1.25v1.25h-1.25zM281.4 187.6h1.25v1.25h-1.25zM190.6 180.7h1.25v1.25h-1.25zM222.2 191.3h1.25v1.25h-1.25zM182.2 160.7h1.25v1.25h-1.25zM165.2 176.9h1.25v1.25h-1.25zM211.4 184.9h1.25v1.25h-1.25zM247.9 191.3h1.25v1.25h-1.25zM255.6 181.1h1.25v1.25h-1.25zM156.6 179.7h1.25v1.25h-1.25zM276.9 171.7h1.25v1.25h-1.25zM186.5 178.5h1.25v1.25h-1.25zM192.4 177.9h1.25v1.25h-1.25zM262.6 190.9h1.25v1.25h-1.25zM270.6 188.0h1.25v1.25h-1.25zM250.1 184.7h1.25v1.25h-1.25zM197.6 191.6h1.25v1.25h-1.25zM214.5 159.8h1.25v1.25h-1.25zM262.9 185.9h1.25v1.25h-1.25zM200.8 174.5h1.25v1.25h-1.25zM259.1 185.2h1.25v1.25h-1.25zM256.0 168.3h1.25v1.25h-1.25zM215.3 174.7h1.25v1.25h-1.25zM270.9 187.9h1.25v1.25h-1.25zM204.4 158.7h1.25v1.25h-1.25zM251.9 168.1h1.25v1.25h-1.25zM237.5 175.4h1.25v1.25h-1.25zM197.4 188.9h1.25v1.25h-1.25zM223.5 167.4h1.25v1.25h-1.25zM233.2 187.8h1.25v1.25h-1.25zM224.2 166.4h1.25v1.25h-1.25zM168.8 168.6h1.25v1.25h-1.25zM283.3 177.9h1.25v1.25h-1.25zM280.0 181.6h1.25v1.25h-1.25zM159.2 189.9h1.25v1.25h-1.25zM277.1 189.9h1.25v1.25h-1.25zM223.5 166.6h1.25v1.25h-1.25zM170.7 185.0h1.25v1.25h-1.25zM261.0 180.9h1.25v1.25h-1.25zM210.7 171.7h1.25v1.25h-1.25zM247.1 186.1h1.25v1.25h-1.25zM261.9 190.6h1.25v1.25h-1.25zM224.3 175.1h1.25v1.25h-1.25zM160.8 191.3h1.25v1.25h-1.25zM261.3 162.1h1.25v1.25h-1.25zM232.2 179.3h1.25v1.25h-1.25zM260.3 166.5h1.25v1.25h-1.25zM238.7 172.5h1.25v1.25h-1.25zM251.9 183.9h1.25v1.25h-1.25zM247.7 174.3h1.25v1.25h-1.25zM231.2 172.0h1.25v1.25h-1.25zM259.8 179.1h1.25v1.25h-1.25zM259.2 167.2h1.25v1.25h-1.25zM231.2 180.2h1.25v1.25h-1.25zM236.6 159.8h1.25v1.25h-1.25zM262.0 165.3h1.25v1.25h-1.25zM267.2 163.8h1.25v1.25h-1.25zM265.3 165.8h1.25v1.25h-1.25zM248.0 183.0h1.25v1.25h-1.25zM241.6 160.0h1.25v1.25h-1.25zM245.3 166.8h1.25v1.25h-1.25zM232.7 173.7h1.25v1.25h-1.25zM247.7 177.0h1.25v1.25h-1.25zM235.2 178.7h1.25v1.25h-1.25zM232.0 169.0h1.25v1.25h-1.25zM242.3 164.9h1.25v1.25h-1.25zM227.4 180.7h1.25v1.25h-1.25zM246.5 162.4h1.25v1.25h-1.25zM257.1 161.0h1.25v1.25h-1.25zM255.0 165.2h1.25v1.25h-1.25zM270.2 171.7h1.25v1.25h-1.25zM266.0 182.9h1.25v1.25h-1.25zM254.2 177.6h1.25v1.25h-1.25zM266.6 173.5h1.25v1.25h-1.25zM245.3 172.4h1.25v1.25h-1.25zM245.0 115.7h1.25v1.25h-1.25zM240.1 116.6h1.25v1.25h-1.25zM218.9 122.5h1.25v1.25h-1.25zM201.1 118.8h1.25v1.25h-1.25zM209.0 127.4h1.25v1.25h-1.25zM251.5 116.5h1.25v1.25h-1.25zM240.7 114.6h1.25v1.25h-1.25zM252.6 131.3h1.25v1.25h-1.25zM197.6 119.7h1.25v1.25h-1.25zM260.1 123.0h1.25v1.25h-1.25zM222.3 117.9h1.25v1.25h-1.25zM262.0 117.9h1.25v1.25h-1.25zM237.8 121.2h1.25v1.25h-1.25zM234.3 127.8h1.25v1.25h-1.25zM254.1 115.0h1.25v1.25h-1.25zM240.0 128.6h1.25v1.25h-1.25zM243.6 131.2h1.25v1.25h-1.25zM205.9 123.9h1.25v1.25h-1.25zM238.5 120.5h1.25v1.25h-1.25zM220.4 118.4h1.25v1.25h-1.25zM148.2 190.1h1.25v1.25h-1.25zM154.0 192.5h1.25v1.25h-1.25zM151.1 188.9h1.25v1.25h-1.25zM154.2 189.4h1.25v1.25h-1.25zM149.9 190.4h1.25v1.25h-1.25zM152.3 185.6h1.25v1.25h-1.25zM146.9 191.7h1.25v1.25h-1.25zM156.6 192.7h1.25v1.25h-1.25zM155.8 186.5h1.25v1.25h-1.25zM152.3 186.0h1.25v1.25h-1.25zM147.2 187.7h1.25v1.25h-1.25zM155.3 183.4h1.25v1.25h-1.25zM158.2 191.4h1.25v1.25h-1.25zM204.5 135.1h1.25v1.25h-1.25zM202.2 124.8h1.25v1.25h-1.25zM190.2 135.7h1.25v1.25h-1.25zM188.7 132.0h1.25v1.25h-1.25zM184.2 139.4h1.25v1.25h-1.25zM197.2 134.4h1.25v1.25h-1.25zM201.1 135.7h1.25v1.25h-1.25zM209.7 121.0h1.25v1.25h-1.25zM178.8 144.4h1.25v1.25h-1.25zM209.4 122.5h1.25v1.25h-1.25zM211.6 119.4h1.25v1.25h-1.25zM187.5 133.6h1.25v1.25h-1.25zM203.6 128.1h1.25v1.25h-1.25zM203.7 120.5h1.25v1.25h-1.25zM201.0 130.1h1.25v1.25h-1.25zM187.8 138.5h1.25v1.25h-1.25zM198.5 128.5h1.25v1.25h-1.25zM207.0 121.4h1.25v1.25h-1.25zM414.4 120.9h1.25v1.25h-1.25zM435.5 122.5h1.25v1.25h-1.25zM414.7 126.6h1.25v1.25h-1.25zM433.5 122.3h1.25v1.25h-1.25zM427.3 132.9h1.25v1.25h-1.25zM421.0 126.0h1.25v1.25h-1.25zM415.9 126.5h1.25v1.25h-1.25zM430.2 126.5h1.25v1.25h-1.25zM434.6 131.3h1.25v1.25h-1.25zM417.3 123.1h1.25v1.25h-1.25zM421.4 134.2h1.25v1.25h-1.25zM430.2 129.6h1.25v1.25h-1.25zM425.6 127.5h1.25v1.25h-1.25zM436.4 126.7h1.25v1.25h-1.25zM419.7 130.0h1.25v1.25h-1.25zM426.9 133.5h1.25v1.25h-1.25zM415.2 133.0h1.25v1.25h-1.25zM437.0 129.0h1.25v1.25h-1.25zM418.6 132.5h1.25v1.25h-1.25zM409.0 127.2h1.25v1.25h-1.25zM422.6 135.1h1.25v1.25h-1.25zM422.5 126.2h1.25v1.25h-1.25zM435.8 111.8h1.25v1.25h-1.25zM421.2 135.7h1.25v1.25h-1.25zM423.3 127.1h1.25v1.25h-1.25zM427.2 118.2h1.25v1.25h-1.25zM433.7 125.0h1.25v1.25h-1.25zM423.0 120.2h1.25v1.25h-1.25zM430.1 141.1h1.25v1.25h-1.25zM426.7 129.9h1.25v1.25h-1.25zM421.4 115.4h1.25v1.25h-1.25zM423.9 130.2h1.25v1.25h-1.25zM423.6 123.6h1.25v1.25h-1.25zM417.4 139.8h1.25v1.25h-1.25zM431.3 119.0h1.25v1.25h-1.25zM414.4 110.6h1.25v1.25h-1.25zM431.0 126.8h1.25v1.25h-1.25zM429.6 123.9h1.25v1.25h-1.25zM422.8 123.5h1.25v1.25h-1.25zM418.4 111.4h1.25v1.25h-1.25zM421.9 129.4h1.25v1.25h-1.25zM426.4 138.1h1.25v1.25h-1.25zM428.2 113.0h1.25v1.25h-1.25zM425.2 134.6h1.25v1.25h-1.25zM429.8 122.4h1.25v1.25h-1.25zM419.8 142.8h1.25v1.25h-1.25zM424.9 129.4h1.25v1.25h-1.25zM413.2 125.1h1.25v1.25h-1.25zM428.3 134.1h1.25v1.25h-1.25zM424.4 130.1h1.25v1.25h-1.25zM420.7 122.2h1.25v1.25h-1.25zM430.9 131.3h1.25v1.25h-1.25zM427.9 122.8h1.25v1.25h-1.25zM405.1 113.9h1.25v1.25h-1.25zM423.6 140.6h1.25v1.25h-1.25zM413.9 123.9h1.25v1.25h-1.25zM430.3 122.1h1.25v1.25h-1.25zM439.6 128.7h1.25v1.25h-1.25zM420.0 115.5h1.25v1.25h-1.25zM423.9 116.9h1.25v1.25h-1.25zM421.7 122.9h1.25v1.25h-1.25zM425.7 122.7h1.25v1.25h-1.25zM427.6 126.9h1.25v1.25h-1.25zM431.7 134.2h1.25v1.25h-1.25zM417.0 123.1h1.25v1.25h-1.25zM433.6 129.8h1.25v1.25h-1.25zM417.3 130.6h1.25v1.25h-1.25zM425.2 118.8h1.25v1.25h-1.25zM430.9 128.0h1.25v1.25h-1.25zM428.0 119.8h1.25v1.25h-1.25zM417.3 133.8h1.25v1.25h-1.25zM418.8 129.6h1.25v1.25h-1.25zM420.4 126.5h1.25v1.25h-1.25zM423.0 117.0h1.25v1.25h-1.25zM430.8 127.2h1.25v1.25h-1.25zM415.0 121.0h1.25v1.25h-1.25zM426.4 131.3h1.25v1.25h-1.25zM427.3 125.5h1.25v1.25h-1.25zM427.0 120.7h1.25v1.25h-1.25zM426.4 132.9h1.25v1.25h-1.25zM433.2 131.4h1.25v1.25h-1.25zM426.5 122.2h1.25v1.25h-1.25zM428.9 134.5h1.25v1.25h-1.25zM427.0 124.3h1.25v1.25h-1.25zM435.0 124.2h1.25v1.25h-1.25zM411.0 127.2h1.25v1.25h-1.25zM431.7 121.1h1.25v1.25h-1.25zM421.7 123.3h1.25v1.25h-1.25zM421.6 125.3h1.25v1.25h-1.25zM417.1 137.1h1.25v1.25h-1.25zM411.2 136.9h1.25v1.25h-1.25zM420.9 124.6h1.25v1.25h-1.25zM418.9 137.6h1.25v1.25h-1.25zM426.6 126.1h1.25v1.25h-1.25zM413.8 129.0h1.25v1.25h-1.25zM432.7 132.6h1.25v1.25h-1.25zM425.1 128.4h1.25v1.25h-1.25zM421.8 143.3h1.25v1.25h-1.25zM418.8 128.1h1.25v1.25h-1.25zM418.3 118.0h1.25v1.25h-1.25zM416.0 135.5h1.25v1.25h-1.25zM419.8 123.5h1.25v1.25h-1.25zM423.4 124.2h1.25v1.25h-1.25zM422.2 105.4h1.25v1.25h-1.25zM414.2 133.4h1.25v1.25h-1.25zM421.6 132.1h1.25v1.25h-1.25zM417.6 132.0h1.25v1.25h-1.25zM424.4 133.2h1.25v1.25h-1.25zM435.5 138.2h1.25v1.25h-1.25zM427.4 126.1h1.25v1.25h-1.25zM421.3 132.9h1.25v1.25h-1.25zM412.8 121.2h1.25v1.25h-1.25zM414.2 123.9h1.25v1.25h-1.25zM412.4 133.8h1.25v1.25h-1.25zM428.1 129.1h1.25v1.25h-1.25zM418.4 117.0h1.25v1.25h-1.25zM423.8 128.9h1.25v1.25h-1.25zM419.3 125.1h1.25v1.25h-1.25zM424.0 120.6h1.25v1.25h-1.25zM432.5 129.4h1.25v1.25h-1.25zM418.9 123.5h1.25v1.25h-1.25zM421.2 115.4h1.25v1.25h-1.25zM418.1 118.6h1.25v1.25h-1.25zM429.1 138.8h1.25v1.25h-1.25zM416.7 115.8h1.25v1.25h-1.25zM416.0 127.9h1.25v1.25h-1.25zM414.4 130.6h1.25v1.25h-1.25zM414.2 130.8h1.25v1.25h-1.25zM426.4 117.8h1.25v1.25h-1.25zM440.1 124.1h1.25v1.25h-1.25zM416.9 127.4h1.25v1.25h-1.25zM429.6 132.0h1.25v1.25h-1.25zM425.0 121.9h1.25v1.25h-1.25zM416.2 118.2h1.25v1.25h-1.25zM421.6 133.4h1.25v1.25h-1.25zM421.9 134.1h1.25v1.25h-1.25zM418.9 129.0h1.25v1.25h-1.25zM435.9 122.1h1.25v1.25h-1.25zM411.0 129.2h1.25v1.25h-1.25zM425.9 127.1h1.25v1.25h-1.25zM425.5 132.2h1.25v1.25h-1.25zM419.6 117.6h1.25v1.25h-1.25zM424.3 127.2h1.25v1.25h-1.25zM429.1 125.3h1.25v1.25h-1.25zM424.4 118.6h1.25v1.25h-1.25zM426.1 127.9h1.25v1.25h-1.25zM427.9 126.6h1.25v1.25h-1.25zM410.2 123.5h1.25v1.25h-1.25zM433.0 129.1h1.25v1.25h-1.25zM438.2 116.4h1.25v1.25h-1.25zM429.8 126.0h1.25v1.25h-1.25zM430.0 129.4h1.25v1.25h-1.25zM414.2 128.4h1.25v1.25h-1.25zM422.6 133.9h1.25v1.25h-1.25zM418.1 118.0h1.25v1.25h-1.25zM419.6 115.8h1.25v1.25h-1.25zM429.7 128.0h1.25v1.25h-1.25zM418.1 129.6h1.25v1.25h-1.25zM422.5 141.2h1.25v1.25h-1.25zM411.0 130.7h1.25v1.25h-1.25zM422.3 120.3h1.25v1.25h-1.25zM424.0 132.0h1.25v1.25h-1.25zM418.8 120.5h1.25v1.25h-1.25zM418.7 116.0h1.25v1.25h-1.25zM435.6 144.6h1.25v1.25h-1.25zM415.5 128.7h1.25v1.25h-1.25zM416.5 131.4h1.25v1.25h-1.25zM418.1 130.3h1.25v1.25h-1.25zM431.2 139.1h1.25v1.25h-1.25zM437.0 128.4h1.25v1.25h-1.25zM425.5 134.9h1.25v1.25h-1.25zM418.7 119.2h1.25v1.25h-1.25zM420.6 116.6h1.25v1.25h-1.25zM430.3 136.4h1.25v1.25h-1.25zM417.5 136.7h1.25v1.25h-1.25zM432.8 130.0h1.25v1.25h-1.25zM432.6 128.0h1.25v1.25h-1.25zM423.8 127.5h1.25v1.25h-1.25zM427.6 121.6h1.25v1.25h-1.25zM428.2 137.1h1.25v1.25h-1.25zM433.5 131.0h1.25v1.25h-1.25zM416.5 129.9h1.25v1.25h-1.25zM431.1 129.0h1.25v1.25h-1.25zM420.9 133.7h1.25v1.25h-1.25zM418.4 129.9h1.25v1.25h-1.25zM424.0 131.6h1.25v1.25h-1.25zM422.0 118.2h1.25v1.25h-1.25zM417.0 129.9h1.25v1.25h-1.25zM413.0 141.7h1.25v1.25h-1.25zM417.3 122.7h1.25v1.25h-1.25zM432.8 125.5h1.25v1.25h-1.25zM436.1 132.6h1.25v1.25h-1.25zM427.6 133.1h1.25v1.25h-1.25zM431.1 130.7h1.25v1.25h-1.25zM420.0 115.1h1.25v1.25h-1.25zM422.9 129.9h1.25v1.25h-1.25zM425.2 118.1h1.25v1.25h-1.25zM416.3 120.6h1.25v1.25h-1.25zM416.9 130.2h1.25v1.25h-1.25zM424.0 124.3h1.25v1.25h-1.25zM421.3 132.0h1.25v1.25h-1.25zM416.5 148.4h1.25v1.25h-1.25zM425.9 131.8h1.25v1.25h-1.25zM421.7 131.4h1.25v1.25h-1.25zM430.0 120.1h1.25v1.25h-1.25zM423.3 121.9h1.25v1.25h-1.25zM421.4 118.9h1.25v1.25h-1.25zM424.2 122.6h1.25v1.25h-1.25zM422.3 118.7h1.25v1.25h-1.25zM419.0 121.8h1.25v1.25h-1.25zM420.8 124.9h1.25v1.25h-1.25zM428.2 119.4h1.25v1.25h-1.25zM427.6 116.4h1.25v1.25h-1.25zM431.7 116.8h1.25v1.25h-1.25zM412.4 129.6h1.25v1.25h-1.25zM420.8 126.8h1.25v1.25h-1.25zM420.7 133.6h1.25v1.25h-1.25zM424.5 133.7h1.25v1.25h-1.25zM420.4 124.0h1.25v1.25h-1.25zM420.0 131.1h1.25v1.25h-1.25zM428.5 116.3h1.25v1.25h-1.25zM424.5 142.4h1.25v1.25h-1.25zM415.8 134.7h1.25v1.25h-1.25zM432.0 124.9h1.25v1.25h-1.25zM429.9 118.2h1.25v1.25h-1.25zM419.6 129.0h1.25v1.25h-1.25zM428.8 113.3h1.25v1.25h-1.25zM418.6 120.9h1.25v1.25h-1.25zM430.7 131.6h1.25v1.25h-1.25zM422.0 126.9h1.25v1.25h-1.25zM418.2 122.9h1.25v1.25h-1.25zM420.9 133.0h1.25v1.25h-1.25zM418.4 119.1h1.25v1.25h-1.25zM424.6 128.4h1.25v1.25h-1.25zM424.5 122.9h1.25v1.25h-1.25zM423.6 120.4h1.25v1.25h-1.25zM419.8 129.6h1.25v1.25h-1.25zM399.6 119.4h1.25v1.25h-1.25zM424.0 139.7h1.25v1.25h-1.25zM411.0 122.3h1.25v1.25h-1.25zM425.0 140.3h1.25v1.25h-1.25zM430.7 118.7h1.25v1.25h-1.25zM425.2 130.6h1.25v1.25h-1.25zM420.8 118.0h1.25v1.25h-1.25zM422.2 117.0h1.25v1.25h-1.25zM422.5 127.5h1.25v1.25h-1.25zM419.8 131.1h1.25v1.25h-1.25zM419.6 117.5h1.25v1.25h-1.25zM417.4 134.7h1.25v1.25h-1.25zM431.1 120.8h1.25v1.25h-1.25zM423.3 127.3h1.25v1.25h-1.25zM429.6 129.0h1.25v1.25h-1.25zM421.7 130.5h1.25v1.25h-1.25zM423.8 113.8h1.25v1.25h-1.25zM422.3 137.7h1.25v1.25h-1.25zM426.4 130.3h1.25v1.25h-1.25zM428.7 123.4h1.25v1.25h-1.25zM424.9 119.2h1.25v1.25h-1.25zM419.0 114.5h1.25v1.25h-1.25zM418.3 116.8h1.25v1.25h-1.25zM434.2 130.2h1.25v1.25h-1.25zM421.6 124.0h1.25v1.25h-1.25zM421.5 118.5h1.25v1.25h-1.25zM432.9 122.7h1.25v1.25h-1.25zM430.4 137.3h1.25v1.25h-1.25zM426.8 124.1h1.25v1.25h-1.25zM420.8 122.3h1.25v1.25h-1.25zM438.7 135.8h1.25v1.25h-1.25zM425.9 129.6h1.25v1.25h-1.25zM426.9 126.7h1.25v1.25h-1.25zM422.3 122.1h1.25v1.25h-1.25zM414.2 115.5h1.25v1.25h-1.25zM414.7 118.2h1.25v1.25h-1.25zM426.0 123.0h1.25v1.25h-1.25zM425.9 124.8h1.25v1.25h-1.25zM421.8 128.9h1.25v1.25h-1.25zM415.8 130.2h1.25v1.25h-1.25zM414.0 127.9h1.25v1.25h-1.25zM421.2 127.9h1.25v1.25h-1.25zM413.9 119.3h1.25v1.25h-1.25zM429.2 111.3h1.25v1.25h-1.25zM430.9 122.7h1.25v1.25h-1.25zM441.8 119.7h1.25v1.25h-1.25zM429.1 121.8h1.25v1.25h-1.25zM419.5 124.5h1.25v1.25h-1.25zM417.7 117.7h1.25v1.25h-1.25zM400.9 118.6h1.25v1.25h-1.25zM419.5 125.7h1.25v1.25h-1.25zM422.2 127.2h1.25v1.25h-1.25zM429.7 121.8h1.25v1.25h-1.25zM427.4 129.9h1.25v1.25h-1.25zM427.2 124.8h1.25v1.25h-1.25zM424.8 119.2h1.25v1.25h-1.25zM427.7 126.7h1.25v1.25h-1.25zM432.8 139.6h1.25v1.25h-1.25zM416.5 121.7h1.25v1.25h-1.25zM420.4 134.5h1.25v1.25h-1.25zM414.3 136.0h1.25v1.25h-1.25zM433.9 136.9h1.25v1.25h-1.25zM431.8 120.6h1.25v1.25h-1.25zM428.3 140.5h1.25v1.25h-1.25zM415.6 127.2h1.25v1.25h-1.25zM424.5 124.6h1.25v1.25h-1.25zM421.8 124.8h1.25v1.25h-1.25zM423.9 130.6h1.25v1.25h-1.25zM422.2 126.7h1.25v1.25h-1.25zM426.8 125.1h1.25v1.25h-1.25zM420.8 135.4h1.25v1.25h-1.25zM428.9 121.3h1.25v1.25h-1.25zM424.9 119.1h1.25v1.25h-1.25zM421.5 131.9h1.25v1.25h-1.25zM422.6 131.3h1.25v1.25h-1.25zM420.5 134.0h1.25v1.25h-1.25zM428.7 118.9h1.25v1.25h-1.25zM421.6 133.9h1.25v1.25h-1.25zM425.3 129.7h1.25v1.25h-1.25zM420.8 138.7h1.25v1.25h-1.25zM413.7 117.6h1.25v1.25h-1.25zM429.3 127.9h1.25v1.25h-1.25zM416.5 124.4h1.25v1.25h-1.25zM427.8 115.2h1.25v1.25h-1.25zM426.1 121.4h1.25v1.25h-1.25zM412.6 134.3h1.25v1.25h-1.25zM417.2 123.1h1.25v1.25h-1.25zM420.0 121.3h1.25v1.25h-1.25zM418.0 132.5h1.25v1.25h-1.25zM415.7 133.3h1.25v1.25h-1.25zM428.2 133.3h1.25v1.25h-1.25zM421.8 120.8h1.25v1.25h-1.25zM425.9 126.0h1.25v1.25h-1.25zM420.6 133.6h1.25v1.25h-1.25zM425.4 121.8h1.25v1.25h-1.25zM418.5 121.1h1.25v1.25h-1.25zM423.2 132.2h1.25v1.25h-1.25zM427.2 137.3h1.25v1.25h-1.25zM423.7 118.3h1.25v1.25h-1.25zM420.4 108.2h1.25v1.25h-1.25zM416.3 116.2h1.25v1.25h-1.25zM424.5 119.3h1.25v1.25h-1.25zM425.6 125.4h1.25v1.25h-1.25zM421.7 130.7h1.25v1.25h-1.25zM418.4 125.3h1.25v1.25h-1.25zM426.9 121.5h1.25v1.25h-1.25zM439.5 127.4h1.25v1.25h-1.25zM421.4 119.6h1.25v1.25h-1.25zM425.6 126.0h1.25v1.25h-1.25zM425.8 121.9h1.25v1.25h-1.25zM406.7 145.1h1.25v1.25h-1.25zM424.2 132.1h1.25v1.25h-1.25zM418.8 120.5h1.25v1.25h-1.25zM432.4 119.4h1.25v1.25h-1.25zM421.7 123.3h1.25v1.25h-1.25zM418.3 114.9h1.25v1.25h-1.25zM422.0 121.3h1.25v1.25h-1.25zM424.5 121.2h1.25v1.25h-1.25zM419.7 132.6h1.25v1.25h-1.25zM423.0 123.4h1.25v1.25h-1.25zM414.6 120.8h1.25v1.25h-1.25zM421.9 117.0h1.25v1.25h-1.25zM428.4 118.1h1.25v1.25h-1.25zM436.2 125.9h1.25v1.25h-1.25zM428.0 124.9h1.25v1.25h-1.25zM425.1 134.3h1.25v1.25h-1.25zM431.1 122.0h1.25v1.25h-1.25zM430.0 133.8h1.25v1.25h-1.25zM434.2 128.2h1.25v1.25h-1.25zM430.4 126.3h1.25v1.25h-1.25zM422.6 112.3h1.25v1.25h-1.25zM425.1 117.3h1.25v1.25h-1.25zM424.5 131.6h1.25v1.25h-1.25zM425.3 136.2h1.25v1.25h-1.25zM424.7 127.8h1.25v1.25h-1.25zM418.3 131.7h1.25v1.25h-1.25zM409.7 123.5h1.25v1.25h-1.25zM419.0 123.8h1.25v1.25h-1.25zM410.2 121.7h1.25v1.25h-1.25zM423.8 133.2h1.25v1.25h-1.25zM423.4 128.8h1.25v1.25h-1.25zM412.5 124.7h1.25v1.25h-1.25zM427.8 124.1h1.25v1.25h-1.25zM429.0 130.3h1.25v1.25h-1.25zM424.0 128.6h1.25v1.25h-1.25zM434.2 120.6h1.25v1.25h-1.25zM435.5 138.4h1.25v1.25h-1.25zM415.5 128.2h1.25v1.25h-1.25zM430.1 126.4h1.25v1.25h-1.25zM426.2 136.7h1.25v1.25h-1.25zM426.1 133.5h1.25v1.25h-1.25zM429.4 125.8h1.25v1.25h-1.25zM418.7 130.1h1.25v1.25h-1.25zM419.5 118.9h1.25v1.25h-1.25zM418.0 121.9h1.25v1.25h-1.25zM418.5 110.6h1.25v1.25h-1.25zM422.7 134.9h1.25v1.25h-1.25zM413.9 113.1h1.25v1.25h-1.25zM416.6 131.1h1.25v1.25h-1.25zM427.1 120.6h1.25v1.25h-1.25zM422.9 119.5h1.25v1.25h-1.25zM425.9 125.0h1.25v1.25h-1.25zM411.1 128.2h1.25v1.25h-1.25zM421.7 91.7h1.25v1.25h-1.25zM429.8 115.6h1.25v1.25h-1.25zM419.9 125.4h1.25v1.25h-1.25zM423.5 109.5h1.25v1.25h-1.25zM413.2 109.2h1.25v1.25h-1.25zM422.4 114.5h1.25v1.25h-1.25zM418.4 122.2h1.25v1.25h-1.25zM414.1 101.1h1.25v1.25h-1.25zM416.7 110.0h1.25v1.25h-1.25zM416.9 108.1h1.25v1.25h-1.25zM418.7 113.3h1.25v1.25h-1.25zM420.2 110.5h1.25v1.25h-1.25zM413.8 114.0h1.25v1.25h-1.25zM412.2 106.4h1.25v1.25h-1.25zM422.6 109.7h1.25v1.25h-1.25zM405.5 104.7h1.25v1.25h-1.25zM413.0 104.7h1.25v1.25h-1.25zM428.2 108.4h1.25v1.25h-1.25zM398.4 108.4h1.25v1.25h-1.25zM412.5 101.2h1.25v1.25h-1.25zM422.2 120.4h1.25v1.25h-1.25zM405.8 108.4h1.25v1.25h-1.25zM435.6 99.7h1.25v1.25h-1.25zM399.3 117.1h1.25v1.25h-1.25zM427.4 104.1h1.25v1.25h-1.25zM428.3 112.9h1.25v1.25h-1.25zM423.8 109.3h1.25v1.25h-1.25zM415.8 111.1h1.25v1.25h-1.25zM419.9 110.6h1.25v1.25h-1.25zM411.1 105.3h1.25v1.25h-1.25zM423.0 109.7h1.25v1.25h-1.25zM409.5 123.6h1.25v1.25h-1.25zM415.5 93.7h1.25v1.25h-1.25zM424.3 109.8h1.25v1.25h-1.25zM409.6 112.4h1.25v1.25h-1.25zM414.8 102.0h1.25v1.25h-1.25zM418.5 99.8h1.25v1.25h-1.25zM408.0 124.5h1.25v1.25h-1.25zM425.5 106.8h1.25v1.25h-1.25zM419.8 123.9h1.25v1.25h-1.25zM406.8 113.1h1.25v1.25h-1.25zM417.0 109.9h1.25v1.25h-1.25zM411.9 112.7h1.25v1.25h-1.25zM412.8 113.8h1.25v1.25h-1.25zM417.9 117.6h1.25v1.25h-1.25zM412.4 112.4h1.25v1.25h-1.25zM424.1 110.4h1.25v1.25h-1.25zM412.4 110.6h1.25v1.25h-1.25zM424.2 118.8h1.25v1.25h-1.25zM417.1 115.1h1.25v1.25h-1.25zM423.4 102.4h1.25v1.25h-1.25zM413.6 104.9h1.25v1.25h-1.25zM413.8 111.7h1.25v1.25h-1.25zM409.3 105.0h1.25v1.25h-1.25zM421.4 106.7h1.25v1.25h-1.25zM423.9 102.7h1.25v1.25h-1.25zM432.2 107.5h1.25v1.25h-1.25zM426.4 112.3h1.25v1.25h-1.25zM419.1 116.3h1.25v1.25h-1.25zM415.9 109.4h1.25v1.25h-1.25zM420.1 123.9h1.25v1.25h-1.25zM417.2 108.8h1.25v1.25h-1.25zM427.6 131.7h1.25v1.25h-1.25zM424.0 116.4h1.25v1.25h-1.25zM411.5 112.9h1.25v1.25h-1.25zM412.6 105.9h1.25v1.25h-1.25zM426.9 89.6h1.25v1.25h-1.25zM419.5 108.3h1.25v1.25h-1.25zM415.8 110.6h1.25v1.25h-1.25zM425.7 122.8h1.25v1.25h-1.25zM414.7 99.7h1.25v1.25h-1.25zM415.4 122.7h1.25v1.25h-1.25zM414.1 107.6h1.25v1.25h-1.25zM403.6 114.4h1.25v1.25h-1.25zM423.4 91.6h1.25v1.25h-1.25zM408.9 110.3h1.25v1.25h-1.25zM413.4 107.0h1.25v1.25h-1.25zM412.2 114.2h1.25v1.25h-1.25zM422.5 110.0h1.25v1.25h-1.25zM416.9 101.4h1.25v1.25h-1.25zM417.5 116.0h1.25v1.25h-1.25zM405.6 114.2h1.25v1.25h-1.25zM416.8 113.6h1.25v1.25h-1.25zM407.0 116.4h1.25v1.25h-1.25zM419.5 117.1h1.25v1.25h-1.25zM419.9 109.2h1.25v1.25h-1.25zM417.3 99.9h1.25v1.25h-1.25zM431.7 99.7h1.25v1.25h-1.25zM421.1 118.8h1.25v1.25h-1.25zM421.5 114.3h1.25v1.25h-1.25zM418.4 110.1h1.25v1.25h-1.25zM416.0 106.3h1.25v1.25h-1.25zM424.1 109.6h1.25v1.25h-1.25zM425.1 109.5h1.25v1.25h-1.25zM408.3 107.0h1.25v1.25h-1.25zM424.8 104.5h1.25v1.25h-1.25zM421.0 124.5h1.25v1.25h-1.25zM424.1 111.0h1.25v1.25h-1.25zM420.6 105.1h1.25v1.25h-1.25zM408.7 100.3h1.25v1.25h-1.25zM409.2 104.3h1.25v1.25h-1.25zM430.1 114.4h1.25v1.25h-1.25zM419.1 114.7h1.25v1.25h-1.25zM407.5 107.8h1.25v1.25h-1.25zM419.8 109.7h1.25v1.25h-1.25zM414.8 107.2h1.25v1.25h-1.25zM404.5 101.6h1.25v1.25h-1.25zM401.3 118.5h1.25v1.25h-1.25zM406.2 112.0h1.25v1.25h-1.25zM419.3 126.7h1.25v1.25h-1.25zM417.0 104.1h1.25v1.25h-1.25zM415.6 108.4h1.25v1.25h-1.25zM419.4 115.6h1.25v1.25h-1.25zM421.6 107.7h1.25v1.25h-1.25zM402.7 99.7h1.25v1.25h-1.25zM415.3 102.7h1.25v1.25h-1.25zM411.6 110.1h1.25v1.25h-1.25zM408.7 111.8h1.25v1.25h-1.25zM413.5 108.7h1.25v1.25h-1.25zM416.5 116.4h1.25v1.25h-1.25zM415.5 116.3h1.25v1.25h-1.25zM407.2 111.6h1.25v1.25h-1.25zM414.0 109.6h1.25v1.25h-1.25zM431.5 107.6h1.25v1.25h-1.25zM410.0 113.2h1.25v1.25h-1.25zM405.6 115.8h1.25v1.25h-1.25zM419.3 109.8h1.25v1.25h-1.25zM421.6 112.5h1.25v1.25h-1.25zM420.6 107.1h1.25v1.25h-1.25zM409.5 99.5h1.25v1.25h-1.25zM424.4 102.4h1.25v1.25h-1.25zM411.9 114.7h1.25v1.25h-1.25zM409.4 112.5h1.25v1.25h-1.25zM413.1 120.5h1.25v1.25h-1.25zM416.6 109.8h1.25v1.25h-1.25zM422.4 115.4h1.25v1.25h-1.25zM421.7 118.6h1.25v1.25h-1.25zM417.2 116.3h1.25v1.25h-1.25zM423.9 105.1h1.25v1.25h-1.25zM417.9 108.1h1.25v1.25h-1.25zM423.6 110.3h1.25v1.25h-1.25zM407.5 102.5h1.25v1.25h-1.25zM406.4 112.7h1.25v1.25h-1.25zM422.8 116.5h1.25v1.25h-1.25zM407.6 106.0h1.25v1.25h-1.25zM415.3 123.2h1.25v1.25h-1.25zM416.7 107.3h1.25v1.25h-1.25zM414.0 108.0h1.25v1.25h-1.25zM414.2 107.7h1.25v1.25h-1.25zM427.1 104.4h1.25v1.25h-1.25zM418.9 147.1h1.25v1.25h-1.25zM416.5 143.5h1.25v1.25h-1.25zM426.3 152.7h1.25v1.25h-1.25zM420.0 135.2h1.25v1.25h-1.25zM419.6 147.4h1.25v1.25h-1.25zM415.0 139.6h1.25v1.25h-1.25zM407.9 151.3h1.25v1.25h-1.25zM415.8 142.9h1.25v1.25h-1.25zM411.3 149.6h1.25v1.25h-1.25zM422.1 139.5h1.25v1.25h-1.25zM416.2 134.9h1.25v1.25h-1.25zM426.4 136.7h1.25v1.25h-1.25zM420.8 139.7h1.25v1.25h-1.25zM421.4 137.2h1.25v1.25h-1.25zM417.8 150.6h1.25v1.25h-1.25zM417.6 151.4h1.25v1.25h-1.25zM420.3 145.0h1.25v1.25h-1.25zM421.9 137.2h1.25v1.25h-1.25zM412.1 142.7h1.25v1.25h-1.25zM419.3 139.3h1.25v1.25h-1.25zM432.1 152.1h1.25v1.25h-1.25zM415.8 145.3h1.25v1.25h-1.25zM414.8 146.3h1.25v1.25h-1.25zM412.2 141.0h1.25v1.25h-1.25zM407.7 131.3h1.25v1.25h-1.25zM423.5 138.7h1.25v1.25h-1.25zM416.7 136.7h1.25v1.25h-1.25zM418.2 145.6h1.25v1.25h-1.25zM427.4 144.0h1.25v1.25h-1.25zM431.4 138.6h1.25v1.25h-1.25zM411.0 141.0h1.25v1.25h-1.25zM422.7 152.8h1.25v1.25h-1.25zM420.1 137.6h1.25v1.25h-1.25zM418.8 137.9h1.25v1.25h-1.25zM419.3 142.0h1.25v1.25h-1.25zM416.2 139.2h1.25v1.25h-1.25zM425.9 140.8h1.25v1.25h-1.25zM420.1 146.6h1.25v1.25h-1.25zM418.5 153.8h1.25v1.25h-1.25zM423.9 132.7h1.25v1.25h-1.25zM421.8 143.3h1.25v1.25h-1.25zM419.2 143.6h1.25v1.25h-1.25zM418.4 142.9h1.25v1.25h-1.25zM426.9 142.3h1.25v1.25h-1.25zM419.4 141.3h1.25v1.25h-1.25zM415.9 149.4h1.25v1.25h-1.25zM411.2 140.6h1.25v1.25h-1.25zM414.3 142.6h1.25v1.25h-1.25zM410.1 143.4h1.25v1.25h-1.25zM417.0 144.0h1.25v1.25h-1.25zM417.9 142.3h1.25v1.25h-1.25zM404.1 149.4h1.25v1.25h-1.25zM416.5 143.3h1.25v1.25h-1.25zM420.3 144.4h1.25v1.25h-1.25zM417.4 143.1h1.25v1.25h-1.25zM410.7 137.4h1.25v1.25h-1.25zM424.0 138.4h1.25v1.25h-1.25zM412.2 137.1h1.25v1.25h-1.25zM409.0 144.5h1.25v1.25h-1.25zM409.9 139.1h1.25v1.25h-1.25zM416.3 137.0h1.25v1.25h-1.25zM422.3 144.8h1.25v1.25h-1.25zM423.4 146.5h1.25v1.25h-1.25zM417.6 132.8h1.25v1.25h-1.25zM409.2 153.5h1.25v1.25h-1.25zM412.4 143.6h1.25v1.25h-1.25zM411.0 142.7h1.25v1.25h-1.25zM415.3 149.8h1.25v1.25h-1.25zM405.7 143.8h1.25v1.25h-1.25zM417.1 139.8h1.25v1.25h-1.25zM420.3 156.5h1.25v1.25h-1.25zM415.5 136.9h1.25v1.25h-1.25zM419.1 142.8h1.25v1.25h-1.25zM410.8 148.5h1.25v1.25h-1.25zM407.7 137.0h1.25v1.25h-1.25zM412.6 142.8h1.25v1.25h-1.25zM423.3 145.7h1.25v1.25h-1.25zM422.6 157.8h1.25v1.25h-1.25zM413.6 138.0h1.25v1.25h-1.25zM423.6 143.1h1.25v1.25h-1.25zM414.4 147.3h1.25v1.25h-1.25zM425.5 143.9h1.25v1.25h-1.25zM419.3 136.2h1.25v1.25h-1.25zM413.7 145.8h1.25v1.25h-1.25zM421.2 144.0h1.25v1.25h-1.25zM411.7 146.0h1.25v1.25h-1.25zM410.8 150.2h1.25v1.25h-1.25zM407.7 149.5h1.25v1.25h-1.25zM417.9 145.8h1.25v1.25h-1.25zM416.1 145.2h1.25v1.25h-1.25zM415.9 136.8h1.25v1.25h-1.25zM413.9 142.6h1.25v1.25h-1.25zM425.0 144.7h1.25v1.25h-1.25zM413.8 141.0h1.25v1.25h-1.25zM412.0 144.0h1.25v1.25h-1.25zM423.9 138.4h1.25v1.25h-1.25zM424.9 152.6h1.25v1.25h-1.25zM418.4 156.3h1.25v1.25h-1.25zM405.9 141.0h1.25v1.25h-1.25zM412.8 145.8h1.25v1.25h-1.25zM434.4 132.1h1.25v1.25h-1.25zM440.4 106.2h1.25v1.25h-1.25zM437.1 122.5h1.25v1.25h-1.25zM435.7 124.7h1.25v1.25h-1.25zM434.5 113.7h1.25v1.25h-1.25zM435.9 116.5h1.25v1.25h-1.25zM431.4 123.0h1.25v1.25h-1.25zM438.1 130.2h1.25v1.25h-1.25zM432.5 114.9h1.25v1.25h-1.25zM437.5 110.9h1.25v1.25h-1.25zM435.9 126.2h1.25v1.25h-1.25zM439.8 129.5h1.25v1.25h-1.25zM435.3 118.4h1.25v1.25h-1.25zM439.5 107.1h1.25v1.25h-1.25zM431.7 129.1h1.25v1.25h-1.25zM437.8 119.2h1.25v1.25h-1.25zM434.5 127.1h1.25v1.25h-1.25zM436.2 120.1h1.25v1.25h-1.25zM435.7 118.1h1.25v1.25h-1.25zM439.1 117.7h1.25v1.25h-1.25zM427.3 129.2h1.25v1.25h-1.25zM436.7 129.0h1.25v1.25h-1.25zM429.4 107.5h1.25v1.25h-1.25zM440.2 114.8h1.25v1.25h-1.25zM427.5 131.0h1.25v1.25h-1.25zM431.4 118.2h1.25v1.25h-1.25zM428.7 112.2h1.25v1.25h-1.25zM441.9 120.4h1.25v1.25h-1.25zM430.2 119.7h1.25v1.25h-1.25zM435.8 119.8h1.25v1.25h-1.25zM433.2 117.5h1.25v1.25h-1.25zM428.2 118.5h1.25v1.25h-1.25zM434.0 117.6h1.25v1.25h-1.25zM438.0 122.4h1.25v1.25h-1.25zM434.6 115.5h1.25v1.25h-1.25zM439.1 118.6h1.25v1.25h-1.25zM433.9 119.5h1.25v1.25h-1.25zM435.4 128.2h1.25v1.25h-1.25zM433.8 122.6h1.25v1.25h-1.25zM436.7 119.7h1.25v1.25h-1.25zM443.0 123.6h1.25v1.25h-1.25zM436.8 122.8h1.25v1.25h-1.25zM436.2 126.9h1.25v1.25h-1.25zM432.9 123.4h1.25v1.25h-1.25zM432.4 131.1h1.25v1.25h-1.25zM441.2 128.4h1.25v1.25h-1.25zM430.9 120.1h1.25v1.25h-1.25zM431.7 117.9h1.25v1.25h-1.25zM435.0 125.7h1.25v1.25h-1.25zM433.7 123.5h1.25v1.25h-1.25zM405.9 126.9h1.25v1.25h-1.25zM399.0 127.7h1.25v1.25h-1.25zM397.2 113.5h1.25v1.25h-1.25zM408.1 110.9h1.25v1.25h-1.25zM410.2 122.1h1.25v1.25h-1.25zM410.4 122.3h1.25v1.25h-1.25zM399.9 113.7h1.25v1.25h-1.25zM411.6 122.7h1.25v1.25h-1.25zM403.7 127.2h1.25v1.25h-1.25zM408.3 123.4h1.25v1.25h-1.25zM408.5 112.0h1.25v1.25h-1.25zM402.4 102.4h1.25v1.25h-1.25zM403.4 119.0h1.25v1.25h-1.25zM396.0 122.9h1.25v1.25h-1.25zM401.8 119.0h1.25v1.25h-1.25zM397.4 117.5h1.25v1.25h-1.25zM408.6 115.2h1.25v1.25h-1.25zM406.7 127.8h1.25v1.25h-1.25zM410.9 120.9h1.25v1.25h-1.25zM408.2 122.5h1.25v1.25h-1.25zM403.2 112.6h1.25v1.25h-1.25zM408.1 115.8h1.25v1.25h-1.25zM404.4 122.8h1.25v1.25h-1.25zM409.4 112.3h1.25v1.25h-1.25zM408.0 110.0h1.25v1.25h-1.25zM401.4 118.4h1.25v1.25h-1.25zM406.4 132.2h1.25v1.25h-1.25zM406.7 123.1h1.25v1.25h-1.25zM404.8 134.5h1.25v1.25h-1.25zM410.8 120.2h1.25v1.25h-1.25zM414.9 118.6h1.25v1.25h-1.25zM404.5 108.8h1.25v1.25h-1.25zM404.6 116.2h1.25v1.25h-1.25zM395.1 134.3h1.25v1.25h-1.25zM405.7 124.3h1.25v1.25h-1.25zM404.2 128.0h1.25v1.25h-1.25zM395.6 127.7h1.25v1.25h-1.25zM407.8 121.3h1.25v1.25h-1.25zM409.3 119.5h1.25v1.25h-1.25zM402.7 122.4h1.25v1.25h-1.25zM404.5 127.4h1.25v1.25h-1.25zM401.5 125.5h1.25v1.25h-1.25zM410.2 125.8h1.25v1.25h-1.25zM398.8 122.8h1.25v1.25h-1.25zM404.8 114.4h1.25v1.25h-1.25zM416.1 119.0h1.25v1.25h-1.25zM406.6 112.9h1.25v1.25h-1.25zM408.7 130.4h1.25v1.25h-1.25zM405.6 102.5h1.25v1.25h-1.25zM400.5 119.4h1.25v1.25h-1.25zM406.2 142.9h1.25v1.25h-1.25zM408.4 118.3h1.25v1.25h-1.25zM401.3 111.2h1.25v1.25h-1.25zM408.1 121.2h1.25v1.25h-1.25zM412.6 133.0h1.25v1.25h-1.25zM411.7 119.9h1.25v1.25h-1.25zM398.5 126.9h1.25v1.25h-1.25zM401.5 122.3h1.25v1.25h-1.25zM398.3 118.0h1.25v1.25h-1.25zM411.7 149.7h1.25v1.25h-1.25zM403.0 162.3h1.25v1.25h-1.25zM405.8 160.9h1.25v1.25h-1.25zM392.9 161.1h1.25v1.25h-1.25zM397.7 169.6h1.25v1.25h-1.25zM392.3 158.1h1.25v1.25h-1.25zM404.4 156.7h1.25v1.25h-1.25zM395.3 172.4h1.25v1.25h-1.25zM406.4 149.0h1.25v1.25h-1.25zM390.3 162.5h1.25v1.25h-1.25zM407.2 162.5h1.25v1.25h-1.25zM398.8 153.9h1.25v1.25h-1.25zM395.3 168.7h1.25v1.25h-1.25zM393.9 159.8h1.25v1.25h-1.25zM393.0 171.8h1.25v1.25h-1.25zM398.5 172.9h1.25v1.25h-1.25zM407.6 150.6h1.25v1.25h-1.25zM398.6 158.0h1.25v1.25h-1.25zM389.8 160.6h1.25v1.25h-1.25zM404.6 146.6h1.25v1.25h-1.25zM398.5 159.4h1.25v1.25h-1.25zM392.2 171.9h1.25v1.25h-1.25zM408.1 156.0h1.25v1.25h-1.25zM409.9 152.7h1.25v1.25h-1.25zM408.0 158.0h1.25v1.25h-1.25zM405.3 157.7h1.25v1.25h-1.25zM413.2 162.5h1.25v1.25h-1.25zM402.2 158.4h1.25v1.25h-1.25zM394.8 167.8h1.25v1.25h-1.25zM393.4 153.9h1.25v1.25h-1.25zM397.3 160.3h1.25v1.25h-1.25zM410.6 153.1h1.25v1.25h-1.25zM408.4 149.3h1.25v1.25h-1.25zM396.0 173.6h1.25v1.25h-1.25zM406.2 158.6h1.25v1.25h-1.25zM398.0 175.2h1.25v1.25h-1.25zM400.4 152.9h1.25v1.25h-1.25zM396.8 161.8h1.25v1.25h-1.25zM401.6 167.1h1.25v1.25h-1.25zM409.8 151.5h1.25v1.25h-1.25zM407.1 148.4h1.25v1.25h-1.25zM401.1 157.8h1.25v1.25h-1.25zM407.7 151.1h1.25v1.25h-1.25zM408.0 158.2h1.25v1.25h-1.25zM409.3 155.4h1.25v1.25h-1.25zM404.8 156.0h1.25v1.25h-1.25zM399.5 156.9h1.25v1.25h-1.25zM407.6 158.5h1.25v1.25h-1.25zM408.0 159.8h1.25v1.25h-1.25zM398.3 157.0h1.25v1.25h-1.25zM400.5 166.9h1.25v1.25h-1.25zM407.3 147.4h1.25v1.25h-1.25zM390.7 170.7h1.25v1.25h-1.25zM400.2 156.5h1.25v1.25h-1.25zM387.8 165.0h1.25v1.25h-1.25zM409.2 147.7h1.25v1.25h-1.25zM407.9 148.6h1.25v1.25h-1.25zM412.1 154.0h1.25v1.25h-1.25zM395.2 171.3h1.25v1.25h-1.25zM401.2 156.7h1.25v1.25h-1.25zM389.9 163.9h1.25v1.25h-1.25zM371.4 161.0h1.25v1.25h-1.25zM384.6 185.2h1.25v1.25h-1.25zM378.5 175.0h1.25v1.25h-1.25zM391.1 160.4h1.25v1.25h-1.25zM380.7 167.9h1.25v1.25h-1.25zM395.1 165.5h1.25v1.25h-1.25zM390.9 162.4h1.25v1.25h-1.25zM381.7 172.8h1.25v1.25h-1.25zM376.9 163.2h1.25v1.25h-1.25zM371.9 162.2h1.25v1.25h-1.25zM374.6 179.8h1.25v1.25h-1.25zM376.8 171.1h1.25v1.25h-1.25zM377.0 178.9h1.25v1.25h-1.25zM370.6 172.4h1.25v1.25h-1.25zM380.9 173.5h1.25v1.25h-1.25zM415.8 113.8h1.25v1.25h-1.25zM415.2 135.0h1.25v1.25h-1.25zM450.9 117.2h1.25v1.25h-1.25zM404.7 114.7h1.25v1.25h-1.25zM432.2 112.5h1.25v1.25h-1.25zM435.2 133.3h1.25v1.25h-1.25zM399.6 115.8h1.25v1.25h-1.25zM402.6 97.6h1.25v1.25h-1.25zM430.1 134.3h1.25v1.25h-1.25zM417.6 113.2h1.25v1.25h-1.25zM428.0 130.1h1.25v1.25h-1.25zM437.0 130.4h1.25v1.25h-1.25zM418.9 143.6h1.25v1.25h-1.25zM410.6 141.1h1.25v1.25h-1.25zM390.6 115.2h1.25v1.25h-1.25zM425.8 121.7h1.25v1.25h-1.25zM412.2 103.7h1.25v1.25h-1.25zM427.1 151.2h1.25v1.25h-1.25zM426.2 131.4h1.25v1.25h-1.25zM406.8 146.7h1.25v1.25h-1.25zM444.1 119.3h1.25v1.25h-1.25zM436.4 91.6h1.25v1.25h-1.25zM433.6 148.9h1.25v1.25h-1.25zM409.2 125.9h1.25v1.25h-1.25zM418.5 126.5h1.25v1.25h-1.25zM416.8 125.3h1.25v1.25h-1.25zM418.4 134.7h1.25v1.25h-1.25zM409.9 132.9h1.25v1.25h-1.25zM428.6 98.9h1.25v1.25h-1.25zM426.1 141.8h1.25v1.25h-1.25zM427.8 115.9h1.25v1.25h-1.25zM417.3 116.9h1.25v1.25h-1.25zM438.9 152.0h1.25v1.25h-1.25zM425.6 139.1h1.25v1.25h-1.25zM390.5 119.0h1.25v1.25h-1.25zM415.7 94.7h1.25v1.25h-1.25zM422.7 127.0h1.25v1.25h-1.25zM435.0 133.0h1.25v1.25h-1.25zM419.8 123.1h1.25v1.25h-1.25zM420.4 104.4h1.25v1.25h-1.25z" fill="#000"/>
</svg>
</body></html>
